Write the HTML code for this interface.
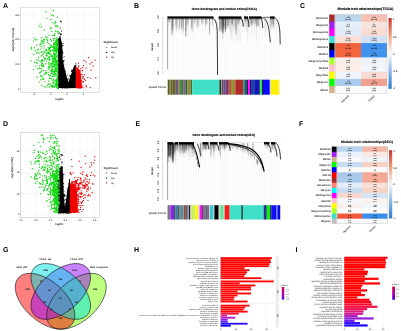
<!DOCTYPE html>
<html><head><meta charset="utf-8"><style>
html,body{margin:0;padding:0;background:#fff;width:401px;height:331px;overflow:hidden}
svg{display:block;will-change:transform;font-family:"Liberation Sans", sans-serif}
text{text-rendering:geometricPrecision}
</style></head><body>
<svg width="401" height="331" viewBox="0 0 401 331" xmlns="http://www.w3.org/2000/svg" shape-rendering="auto">
<rect width="401" height="331" fill="#fff"/>
<text x="3" y="7.8" font-size="7" text-anchor="start" font-weight="bold" fill="#000">A</text>
<text x="134" y="7.8" font-size="7" text-anchor="start" font-weight="bold" fill="#000">B</text>
<text x="300.1" y="7.8" font-size="7" text-anchor="start" font-weight="bold" fill="#000">C</text>
<text x="3" y="126.3" font-size="7" text-anchor="start" font-weight="bold" fill="#000">D</text>
<text x="135.6" y="126.3" font-size="7" text-anchor="start" font-weight="bold" fill="#000">E</text>
<text x="298.9" y="126.3" font-size="7" text-anchor="start" font-weight="bold" fill="#000">F</text>
<text x="3" y="251.9" font-size="7" text-anchor="start" font-weight="bold" fill="#000">G</text>
<text x="134" y="251.8" font-size="7" text-anchor="start" font-weight="bold" fill="#000">H</text>
<text x="295.6" y="252" font-size="7" text-anchor="start" font-weight="bold" fill="#000">I</text>
<rect x="20.6" y="7.2" width="78.9" height="85.2" fill="#fff"/>
<line x1="42.25" y1="7.2" x2="42.25" y2="92.4" stroke="#f5f5f5" stroke-width="0.3"/>
<line x1="58.75" y1="7.2" x2="58.75" y2="92.4" stroke="#f5f5f5" stroke-width="0.3"/>
<line x1="75.25" y1="7.2" x2="75.25" y2="92.4" stroke="#f5f5f5" stroke-width="0.3"/>
<line x1="20.6" y1="27.25" x2="99.5" y2="27.25" stroke="#f5f5f5" stroke-width="0.3"/>
<line x1="20.6" y1="51.75" x2="99.5" y2="51.75" stroke="#f5f5f5" stroke-width="0.3"/>
<line x1="20.6" y1="76.5" x2="99.5" y2="76.5" stroke="#f5f5f5" stroke-width="0.3"/>
<line x1="34" y1="7.2" x2="34" y2="92.4" stroke="#ececec" stroke-width="0.4"/>
<line x1="50.5" y1="7.2" x2="50.5" y2="92.4" stroke="#ececec" stroke-width="0.4"/>
<line x1="67" y1="7.2" x2="67" y2="92.4" stroke="#ececec" stroke-width="0.4"/>
<line x1="83.5" y1="7.2" x2="83.5" y2="92.4" stroke="#ececec" stroke-width="0.4"/>
<line x1="20.6" y1="15" x2="99.5" y2="15" stroke="#ececec" stroke-width="0.4"/>
<line x1="20.6" y1="39.5" x2="99.5" y2="39.5" stroke="#ececec" stroke-width="0.4"/>
<line x1="20.6" y1="64" x2="99.5" y2="64" stroke="#ececec" stroke-width="0.4"/>
<line x1="20.6" y1="89" x2="99.5" y2="89" stroke="#ececec" stroke-width="0.4"/>
<path d="M51.1 64.7h0M54.0 58.1h0M52.3 22.6h0M56.7 51.4h0M57.6 77.6h0M57.9 76.8h0M52.0 67.9h0M54.9 75.8h0M46.1 72.6h0M49.6 47.4h0M57.4 41.0h0M56.5 66.8h0M57.7 61.5h0M57.4 60.9h0M55.5 49.3h0M54.0 83.8h0M45.1 50.1h0M43.2 64.8h0M49.0 53.1h0M34.0 37.9h0M54.6 59.1h0M57.5 48.7h0M44.8 60.3h0M33.8 54.5h0M57.6 83.3h0M54.4 65.1h0M54.8 48.1h0M49.6 75.7h0M58.4 56.1h0M56.8 79.2h0M42.4 66.3h0M55.1 48.9h0M54.7 47.1h0M39.2 53.2h0M54.3 47.2h0M49.2 49.5h0M51.7 70.0h0M54.3 87.3h0M53.7 45.2h0M50.5 84.0h0M42.5 60.0h0M54.3 46.1h0M56.4 86.4h0M50.6 45.9h0M58.1 55.2h0M50.1 44.6h0M46.1 11.7h0M53.8 71.2h0M54.5 71.3h0M50.9 51.0h0M55.2 21.3h0M55.4 83.9h0M52.2 59.4h0M47.9 52.1h0M50.0 86.6h0M56.3 50.7h0M56.3 51.3h0M51.4 40.7h0M56.7 61.4h0M55.0 72.0h0M54.5 57.6h0M54.2 53.5h0M57.8 50.0h0M57.5 61.3h0M55.2 57.9h0M55.4 61.3h0M53.3 67.1h0M46.0 74.0h0M53.5 48.1h0M56.5 71.4h0M54.3 50.9h0M35.2 50.7h0M56.5 81.2h0M44.2 41.1h0M57.2 87.7h0M45.9 87.2h0M48.3 53.3h0M51.7 55.6h0M41.5 65.0h0M53.8 66.1h0M56.9 83.2h0M56.8 50.2h0M53.8 44.5h0M52.2 50.1h0M58.1 79.5h0M58.2 59.8h0M58.3 55.0h0M51.6 14.9h0M57.0 44.4h0M56.7 49.5h0M55.3 67.5h0M47.2 37.3h0M52.5 70.8h0M52.9 82.6h0M56.5 48.7h0M57.5 85.3h0M56.7 47.6h0M41.2 56.1h0M53.6 53.1h0M55.8 62.9h0M54.6 56.1h0M56.9 87.7h0M42.5 41.8h0M55.6 22.7h0M58.2 33.3h0M55.8 51.4h0M52.5 74.0h0M58.3 64.4h0M35.0 39.8h0M44.9 39.1h0M57.4 65.7h0M50.2 70.3h0M48.2 47.8h0M53.4 53.5h0M38.4 60.1h0M58.3 83.6h0M56.4 61.4h0M44.1 46.1h0M40.8 79.7h0M56.4 48.2h0M50.8 65.7h0M39.3 82.1h0M56.3 42.3h0M52.9 71.6h0M57.2 62.7h0M56.3 74.7h0M52.9 58.5h0M56.9 38.4h0M53.5 50.2h0M55.9 80.0h0M56.9 38.3h0M48.8 68.7h0M57.1 65.6h0M55.5 51.4h0M56.3 68.1h0M50.9 75.6h0M52.7 35.5h0M40.9 43.2h0M56.6 82.0h0M58.1 81.4h0M57.7 44.2h0M43.7 39.7h0M54.3 47.9h0M57.4 65.6h0M33.3 41.1h0M51.7 45.9h0M53.1 76.4h0M52.6 66.1h0M47.4 85.8h0M57.3 63.8h0M40.0 24.1h0M46.1 50.3h0M37.2 63.2h0M58.1 58.6h0M43.6 79.4h0M57.2 78.2h0M46.1 50.2h0M41.5 63.0h0M46.8 72.6h0M57.0 80.5h0M54.0 56.1h0M56.1 85.9h0M55.9 53.9h0M46.5 54.2h0M57.7 81.2h0M58.1 67.0h0M50.7 78.1h0M54.2 62.1h0M48.4 43.6h0M58.1 43.9h0M58.4 53.9h0M55.7 26.2h0M41.2 46.7h0M51.2 63.1h0M57.2 41.6h0M55.6 41.4h0M49.0 84.3h0M56.4 53.0h0M55.9 60.0h0M55.7 44.0h0M44.1 86.5h0M48.1 59.3h0M57.7 44.0h0M58.2 65.3h0M54.2 57.1h0M55.4 53.9h0M56.8 82.7h0M55.0 72.0h0M55.1 55.9h0M58.3 43.4h0M58.0 52.4h0M57.4 70.4h0M50.0 56.1h0M57.2 40.1h0M58.2 58.8h0M37.6 52.6h0M55.2 65.3h0M53.0 60.7h0M48.4 50.0h0M51.8 47.1h0M53.6 59.9h0M53.9 66.1h0M36.5 62.6h0M49.7 67.4h0M54.5 43.5h0M50.4 39.3h0M55.0 44.4h0M44.1 30.0h0M36.8 39.7h0M47.1 58.9h0M43.8 39.5h0M51.2 73.5h0M39.3 26.6h0M57.0 63.4h0M51.7 67.3h0M55.5 46.9h0M44.3 59.0h0M53.7 40.4h0M40.8 75.5h0M55.9 25.6h0M56.0 40.7h0M52.4 47.3h0M54.2 86.6h0M48.2 67.0h0M56.2 80.3h0M42.9 42.6h0M43.7 65.6h0M56.4 42.0h0M46.0 63.8h0M56.6 85.5h0M55.6 73.6h0M56.0 60.6h0M56.2 70.9h0M57.2 75.5h0M51.3 56.8h0M52.2 80.1h0M48.0 84.1h0M51.7 27.9h0M53.7 74.7h0M55.6 83.6h0M58.1 47.7h0M55.7 61.7h0M57.8 42.4h0M42.0 51.7h0M41.8 60.0h0M49.7 48.3h0M48.9 62.4h0M49.5 57.0h0M37.5 68.8h0M56.0 40.1h0M48.8 57.4h0M55.7 44.3h0M51.8 31.5h0M55.7 31.2h0M46.5 55.7h0M54.0 42.9h0M51.5 86.6h0M57.4 17.1h0M57.9 66.0h0M45.6 36.8h0M57.6 51.1h0M53.1 64.0h0M54.9 68.5h0M41.7 85.2h0M54.8 65.9h0M58.2 60.8h0M52.5 85.1h0M49.1 87.1h0M43.9 74.6h0M55.8 51.7h0M43.9 43.6h0M54.2 23.7h0M46.7 39.0h0M56.2 44.2h0M55.9 62.4h0M57.0 38.0h0M54.2 49.2h0M49.0 64.8h0M55.6 51.7h0M51.0 19.5h0M57.8 42.5h0M58.3 48.8h0M49.1 48.6h0M43.9 51.5h0M56.5 41.0h0M58.0 88.2h0M56.3 45.0h0M40.5 72.3h0M41.9 55.6h0M48.2 72.1h0M56.8 56.6h0M57.2 79.6h0M35.6 66.1h0M41.3 52.2h0M52.4 64.1h0M53.4 10.8h0M54.7 54.0h0M50.3 50.5h0M39.8 65.8h0M47.1 55.8h0M56.2 48.2h0M52.6 57.1h0M53.6 60.5h0M56.1 48.5h0M40.1 61.5h0M36.6 53.2h0M55.1 61.2h0M54.0 63.7h0M42.3 78.9h0M54.9 86.0h0M54.7 35.6h0M53.9 58.2h0M56.3 40.6h0M37.9 49.6h0M54.3 55.4h0M46.4 50.9h0M53.1 50.5h0M41.4 60.7h0M56.8 25.7h0M54.7 54.2h0M39.9 68.7h0M53.5 79.1h0M47.1 18.6h0M49.2 54.1h0M31.5 47.2h0M58.1 58.3h0M58.1 33.8h0M31.8 49.3h0M51.3 78.8h0M55.4 69.0h0M41.3 26.7h0M50.8 63.2h0M55.4 70.0h0M46.1 52.9h0M57.4 68.5h0M54.5 61.9h0M58.3 55.5h0M56.7 43.4h0M57.0 70.9h0M57.9 41.3h0M56.6 84.3h0M45.9 70.8h0M57.0 62.7h0M56.8 51.2h0M47.6 53.0h0M57.7 39.8h0M56.0 41.8h0M57.5 73.1h0M55.8 69.0h0M57.0 86.6h0M37.0 77.2h0M57.2 69.1h0M41.5 71.3h0M57.6 49.4h0M43.8 45.9h0M49.6 58.8h0M31.1 60.9h0M47.5 59.1h0M56.5 86.9h0M57.6 42.9h0M54.9 64.6h0M57.4 69.1h0M41.8 40.4h0M41.7 37.8h0M38.3 57.3h0M54.1 66.5h0M58.3 31.9h0M54.7 51.1h0M57.9 40.6h0M54.7 56.7h0M43.5 66.7h0M55.8 64.1h0M43.5 70.5h0M53.9 72.0h0M57.8 78.3h0M45.0 81.6h0M54.0 35.3h0M54.8 76.5h0M57.4 31.1h0M56.4 82.9h0M49.5 52.7h0M55.8 57.6h0M56.2 64.5h0M41.2 43.7h0M54.3 71.2h0M42.3 63.5h0M49.5 49.5h0M54.3 35.0h0M55.1 46.5h0M55.3 42.4h0M40.3 44.8h0M54.2 73.2h0M50.5 47.6h0M36.8 60.0h0M45.9 63.7h0M58.1 70.5h0M56.8 80.9h0M38.4 49.2h0M54.5 75.1h0M39.5 72.9h0M51.8 72.3h0M52.5 61.2h0M49.5 78.3h0M55.7 22.5h0M57.0 87.3h0M47.7 40.5h0M58.1 68.6h0M43.1 53.7h0M55.6 62.4h0M53.6 38.7h0M52.5 82.1h0M53.9 42.9h0M44.4 52.4h0M54.3 57.6h0M50.4 28.3h0M42.5 61.3h0M54.7 72.9h0M54.0 38.9h0M56.7 86.1h0M43.8 41.3h0M57.5 73.8h0M54.5 65.2h0M53.9 62.1h0M56.6 40.0h0M56.0 71.0h0M51.6 85.7h0M56.3 45.4h0M57.2 50.3h0M55.1 58.9h0M54.3 46.3h0M45.0 73.2h0M57.6 81.6h0M57.8 26.8h0M55.2 80.7h0M50.3 51.4h0M57.5 45.7h0M43.7 57.3h0M49.0 63.3h0M37.5 49.9h0M43.0 78.3h0M55.4 74.1h0M51.4 55.4h0M47.3 42.5h0M53.1 66.2h0M57.9 87.7h0M54.9 50.2h0M57.2 62.8h0M53.7 43.7h0M52.8 56.2h0M52.0 63.7h0M49.0 35.5h0M56.6 84.7h0M45.4 58.3h0M49.4 59.7h0M52.8 69.2h0M58.0 77.3h0M34.6 62.4h0M55.7 51.6h0M51.7 69.8h0M56.8 60.2h0M57.7 64.7h0M54.5 56.8h0M48.6 74.8h0M31.3 48.9h0M53.5 62.1h0M54.7 75.3h0M53.6 15.7h0M53.7 82.8h0M36.5 45.3h0M47.5 40.3h0M58.2 83.6h0M54.8 38.4h0M55.5 54.7h0M48.3 53.0h0M33.6 69.6h0M55.3 46.7h0M57.8 69.3h0M52.1 15.1h0M57.4 83.0h0M42.2 76.3h0M56.2 43.6h0M58.3 56.0h0M41.8 65.6h0M57.4 76.4h0M56.4 45.8h0M56.3 47.8h0M55.8 59.4h0M54.5 57.2h0M52.0 63.2h0M52.8 87.5h0M55.5 85.5h0M58.2 60.1h0M57.8 61.3h0M39.9 44.9h0M34.5 47.8h0M54.3 81.7h0M43.8 48.1h0M56.1 79.8h0M58.3 51.4h0M57.6 41.2h0M52.9 86.4h0M41.2 68.7h0M55.4 71.0h0M40.6 49.1h0M58.2 54.6h0M49.5 66.5h0M52.4 66.0h0M46.5 61.3h0M58.2 68.0h0M57.2 44.1h0M55.6 58.5h0M51.2 71.5h0M42.7 54.6h0M53.2 51.0h0M48.5 69.0h0M48.9 81.0h0M55.5 71.0h0M56.4 70.1h0M39.5 68.3h0M57.6 46.5h0M52.1 76.6h0M54.5 48.0h0M57.4 40.3h0M53.9 47.2h0M46.5 49.4h0M57.8 45.6h0M54.8 65.2h0M52.8 86.0h0M52.6 62.5h0M48.8 57.1h0M54.8 33.5h0M55.5 71.2h0M51.7 70.5h0M50.1 60.0h0M52.9 47.0h0M41.0 76.6h0M48.7 52.5h0M54.5 72.3h0M57.0 55.2h0M53.7 54.3h0M56.8 47.3h0M41.3 41.1h0M54.9 59.7h0M55.2 50.4h0M57.4 56.2h0M58.0 80.7h0M56.7 39.8h0M53.5 80.1h0M58.4 85.3h0M56.3 57.1h0M57.2 72.3h0M50.5 54.2h0M56.6 42.5h0M56.4 79.9h0" stroke="#10d810" stroke-opacity="1.0" stroke-width="1.36" stroke-linecap="round" fill="none"/>
<path d="M73.1 78.6h0M75.1 87.2h0M73.1 71.4h0M70.0 85.2h0M59.7 82.0h0M62.8 62.5h0M64.4 88.0h0M62.3 70.2h0M60.0 87.3h0M64.4 79.8h0M73.0 70.0h0M60.7 65.1h0M72.5 86.5h0M67.9 86.1h0M66.3 83.9h0M58.5 71.8h0M75.3 78.6h0M58.6 61.4h0M62.5 74.3h0M61.7 61.8h0M64.0 84.0h0M62.5 68.5h0M74.2 78.5h0M60.0 55.1h0M59.8 58.7h0M61.5 81.1h0M60.7 79.6h0M72.4 85.5h0M70.0 87.9h0M59.9 48.5h0M60.0 52.4h0M65.4 81.3h0M61.7 46.5h0M73.1 71.0h0M62.4 85.2h0M62.4 52.0h0M60.4 68.0h0M66.9 81.2h0M71.6 81.1h0M73.2 76.9h0M63.1 60.7h0M74.4 75.0h0M59.9 57.2h0M62.3 63.6h0M59.5 43.4h0M58.4 39.4h0M66.7 83.1h0M60.0 41.1h0M76.1 74.4h0M65.3 71.0h0M66.5 84.4h0M75.0 71.3h0M61.8 69.4h0M75.2 81.2h0M63.7 65.5h0M60.0 44.1h0M69.4 86.3h0M58.9 54.0h0M70.8 75.2h0M65.0 83.8h0M62.9 85.1h0M73.8 72.8h0M63.2 66.3h0M62.1 65.8h0M63.8 60.5h0M59.4 62.9h0M63.8 85.8h0M61.0 70.0h0M59.9 46.1h0M61.3 56.0h0M61.0 48.2h0M74.9 81.7h0M65.9 85.9h0M74.6 84.8h0M73.0 74.1h0M60.3 41.4h0M58.6 76.9h0M71.6 75.3h0M61.4 84.1h0M61.2 71.6h0M71.0 82.0h0M71.0 81.9h0M59.3 76.2h0M64.3 84.0h0M59.2 46.4h0M60.9 51.5h0M60.5 77.4h0M62.0 82.4h0M65.7 77.1h0M61.2 59.3h0M74.0 76.4h0M62.7 75.7h0M70.8 77.9h0M60.7 58.4h0M62.2 57.5h0M66.0 88.1h0M75.9 70.2h0M58.4 84.7h0M62.9 82.8h0M63.4 71.1h0M61.2 86.8h0M69.4 86.2h0M60.9 33.6h0M59.7 36.9h0M59.2 65.7h0M62.5 50.8h0M75.5 66.1h0M59.2 63.1h0M74.1 75.1h0M60.5 56.5h0M60.3 80.6h0M72.2 78.6h0M59.1 67.4h0M62.4 88.3h0M71.9 87.7h0M70.8 80.3h0M66.9 78.9h0M61.2 45.0h0M73.7 84.9h0M74.8 70.1h0M58.5 73.0h0M74.3 86.8h0M62.0 64.7h0M72.1 79.0h0M72.1 77.0h0M62.9 52.8h0M64.4 86.0h0M63.3 43.3h0M72.7 84.6h0M61.6 42.8h0M65.1 81.9h0M71.6 84.8h0M72.3 80.1h0M59.0 48.2h0M60.5 45.9h0M63.8 64.1h0M62.0 78.5h0M66.4 87.7h0M59.0 68.9h0M60.8 34.6h0M73.6 76.7h0M67.8 75.0h0M61.7 60.0h0M65.0 82.5h0M63.5 68.3h0M58.4 57.3h0M73.0 86.4h0M72.1 81.1h0M61.8 75.7h0M60.3 85.3h0M63.1 66.2h0M62.2 86.9h0M64.3 72.0h0M60.7 70.4h0M69.4 83.2h0M73.3 74.1h0M73.2 87.6h0M72.7 71.3h0M73.9 73.5h0M68.3 85.7h0M59.1 84.8h0M62.0 59.9h0M74.6 73.9h0M67.9 79.9h0M71.2 84.0h0M63.5 74.0h0M59.3 41.8h0M75.7 63.8h0M61.6 55.0h0M70.7 85.4h0M68.5 86.8h0M62.7 76.1h0M63.1 84.5h0M63.7 65.5h0M71.5 85.8h0M60.6 71.1h0M60.0 39.4h0M72.7 87.2h0M71.4 71.4h0M72.7 75.0h0M62.6 53.7h0M59.0 40.9h0M75.0 68.1h0M65.6 80.2h0M67.8 82.7h0M63.3 83.5h0M62.6 67.5h0M59.9 54.4h0M61.3 34.7h0M73.6 82.6h0M61.1 82.7h0M74.2 69.3h0M69.8 75.9h0M60.1 62.1h0M62.5 71.9h0M60.5 63.8h0M60.6 51.7h0M65.4 84.2h0M72.0 82.7h0M62.9 83.5h0M60.5 69.8h0M62.6 82.0h0M58.4 88.0h0M72.4 76.4h0M62.0 69.0h0M63.8 72.7h0M66.2 81.7h0M59.1 74.1h0M63.5 61.2h0M64.5 75.9h0M62.7 62.1h0M72.4 84.0h0M69.4 82.4h0M72.8 71.5h0M62.1 80.5h0M73.7 85.2h0M70.1 81.5h0M60.6 70.5h0M60.7 69.5h0M67.5 79.7h0M61.7 46.6h0M73.3 69.7h0M65.4 75.4h0M60.4 52.9h0M64.5 80.8h0M60.0 40.3h0M66.3 84.5h0M61.6 77.6h0M58.8 75.0h0M63.0 70.9h0M60.5 45.7h0M60.3 51.7h0M59.3 57.3h0M74.9 87.2h0M60.8 43.7h0M59.0 51.9h0M64.3 79.3h0M65.1 78.0h0M61.5 72.0h0M67.2 84.5h0M64.9 85.4h0M73.8 85.3h0M63.2 72.5h0M61.9 55.6h0M63.4 75.1h0M72.2 83.4h0M74.0 70.3h0M74.1 79.3h0M75.4 86.2h0M62.2 67.0h0M65.4 82.6h0M71.9 78.7h0M63.9 80.2h0M75.0 76.7h0M73.8 73.8h0M59.5 58.6h0M58.5 50.0h0M62.3 86.1h0M73.7 78.1h0M73.1 75.9h0M75.2 68.0h0M59.1 59.8h0M74.3 87.4h0M60.9 50.8h0M74.2 72.3h0M61.5 58.4h0M61.2 59.1h0M75.8 72.3h0M59.1 50.5h0M72.8 76.6h0M70.5 76.8h0M66.3 85.8h0M74.8 72.5h0M61.1 72.0h0M64.6 85.5h0M60.5 69.0h0M63.1 62.3h0M66.5 78.5h0M61.3 52.6h0M59.4 60.4h0M75.0 76.7h0M62.2 69.8h0M62.0 52.6h0M58.6 53.3h0M61.2 86.6h0M60.9 53.6h0M61.8 71.5h0M58.6 85.5h0M74.1 87.6h0M72.7 71.4h0M61.4 57.1h0M70.8 75.7h0M61.6 60.6h0M59.5 76.1h0M63.6 86.0h0M61.4 64.7h0M58.9 49.8h0M75.3 75.2h0M58.7 49.7h0M60.1 59.1h0M74.2 78.4h0M72.0 70.5h0M60.8 50.2h0M58.8 58.8h0M59.5 49.1h0M71.1 80.8h0M74.3 69.3h0M75.4 82.3h0M66.7 80.4h0M67.8 88.1h0M63.8 81.7h0M59.7 73.9h0M64.1 60.8h0M63.1 68.3h0M61.6 48.3h0M71.1 86.4h0M73.4 76.9h0M61.9 60.4h0M74.2 80.6h0M73.0 73.4h0M61.3 57.9h0M70.6 85.1h0M71.8 79.3h0M68.9 78.8h0M59.6 61.6h0M72.4 70.5h0M62.3 75.8h0M67.3 85.6h0M65.6 75.5h0M76.1 65.2h0M70.3 84.2h0M59.4 48.6h0M74.3 68.7h0M64.2 70.5h0M73.6 79.8h0M75.4 67.3h0M59.6 58.4h0M65.7 77.6h0M62.5 61.7h0M64.9 86.9h0M62.0 45.1h0M65.8 81.3h0M61.4 64.1h0M59.1 60.5h0M71.6 77.0h0M63.2 83.2h0M58.6 79.6h0M61.5 81.2h0M64.6 73.8h0M65.4 86.8h0M63.1 45.5h0M66.6 84.5h0M63.2 77.9h0M62.8 80.3h0M63.0 74.2h0M60.1 43.1h0M59.0 39.3h0M64.4 68.3h0M65.7 75.3h0M62.0 82.3h0M60.2 36.3h0M61.5 43.8h0M60.0 48.0h0M59.7 76.0h0M65.0 72.3h0M62.1 84.4h0M58.6 52.5h0M59.5 78.3h0M62.7 69.0h0M75.3 82.4h0M73.6 86.1h0M74.5 83.1h0M72.1 76.1h0M63.5 69.9h0M74.6 81.2h0M59.3 85.1h0M65.5 75.4h0M58.9 78.4h0M73.1 74.8h0M63.8 76.9h0M74.1 71.2h0M59.2 63.1h0M60.2 54.3h0M71.8 75.6h0M65.1 81.8h0M59.9 60.2h0M72.6 73.1h0M64.1 56.7h0M61.8 77.5h0M63.6 73.0h0M74.2 76.8h0M63.3 70.9h0M72.4 86.5h0M66.8 85.8h0M59.8 42.8h0M71.8 70.1h0M60.1 56.8h0M59.8 49.3h0M69.9 81.4h0M60.0 71.1h0M63.4 80.4h0M61.7 71.8h0M61.1 43.2h0M63.1 77.5h0M59.4 43.9h0M74.2 74.3h0M65.7 76.9h0M60.5 54.8h0M59.1 44.3h0M65.2 70.9h0M67.1 83.0h0M59.8 48.6h0M74.2 86.9h0M61.9 43.2h0M73.4 73.7h0M60.7 77.7h0M58.8 65.3h0M73.3 72.5h0M64.9 84.2h0M59.2 68.1h0" stroke="#000" stroke-opacity="1.0" stroke-width="1.1" stroke-linecap="round" fill="none"/>
<path d="M58.4,38 L60.5,37 L62.3,45 L62.6,60 L64.8,70 L66.5,76 L68,81.7 L68.6,81.7 L74.1,65.7 L75.2,65 L75.9,66 L75.9,88 L58.4,88 Z" fill="#000"/>
<path d="M60.6 21.2h0M61.2 21.8h0M60.2 28.0h0M61.5 31.0h0M59.5 33.0h0M60.5 34.5h0" stroke="#000" stroke-opacity="1.0" stroke-width="1.2" stroke-linecap="round" fill="none"/>
<path d="M75.9,69 L77.5,67.5 L79.5,70 L81,76 L82,88 L75.9,88 Z" fill="#f00000"/>
<path d="M77.0 74.1h0M83.5 65.7h0M77.5 87.6h0M80.4 79.6h0M77.4 73.1h0M79.0 70.8h0M76.7 87.1h0M76.7 79.8h0M78.1 85.4h0M79.8 74.3h0M84.5 74.7h0M77.9 80.0h0M78.1 79.9h0M76.7 79.7h0M80.5 74.2h0M78.2 73.0h0M78.5 74.4h0M76.4 86.1h0M77.5 85.0h0M83.4 76.9h0M77.2 74.9h0M76.9 74.4h0M75.9 73.5h0M79.6 71.5h0M80.0 82.0h0M79.0 82.5h0M79.4 73.1h0M77.8 86.4h0M78.4 76.6h0M76.2 87.2h0M77.3 83.1h0M78.2 82.2h0M80.2 71.8h0M79.4 72.9h0M78.8 74.9h0M79.5 82.1h0M78.7 72.9h0M78.6 79.7h0M79.2 88.1h0M78.7 66.7h0M82.5 78.4h0M79.6 80.1h0M80.7 88.1h0M78.9 81.4h0M77.3 85.2h0M77.2 79.3h0M81.9 74.8h0M77.6 70.2h0M79.5 81.3h0M79.1 80.5h0M82.3 70.8h0M82.5 70.5h0M80.5 86.1h0M79.6 74.8h0M78.2 72.6h0M78.8 78.9h0M79.2 82.3h0M77.3 73.1h0M86.0 85.5h0M78.9 83.2h0M77.0 76.6h0M77.4 74.2h0M75.9 67.7h0M78.2 80.0h0M77.4 82.7h0M76.6 81.9h0M78.7 80.1h0M80.1 76.7h0M79.6 79.9h0M76.0 87.9h0M78.6 88.0h0M86.3 67.8h0M79.0 77.7h0M86.3 86.9h0M80.0 82.0h0M77.9 79.1h0M84.5 79.2h0M76.7 79.4h0M85.5 80.3h0M95.8 77.7h0M81.8 74.1h0M90.3 87.6h0M87.9 77.7h0M77.4 80.8h0M77.5 87.3h0M76.4 86.7h0M79.6 85.3h0M77.4 85.4h0M78.3 87.1h0M78.4 83.6h0M80.1 72.3h0M78.8 79.1h0M77.1 78.3h0M80.5 74.5h0M79.6 75.5h0M78.3 73.2h0M78.5 66.0h0M80.5 87.9h0M79.5 84.0h0M76.2 70.7h0M78.2 87.8h0M76.7 70.7h0M77.4 73.8h0M78.3 75.7h0M82.9 87.5h0M79.5 74.6h0M79.0 77.4h0M78.5 63.2h0M80.2 75.1h0M78.8 70.2h0M77.0 73.2h0M76.1 71.1h0M78.8 83.2h0M76.7 73.5h0M77.5 73.7h0M90.8 78.3h0M79.9 82.7h0M76.7 76.8h0M79.1 86.8h0M78.6 70.1h0M76.8 75.2h0M78.0 84.5h0M76.6 81.2h0M81.8 81.1h0M83.0 82.0h0M78.7 76.6h0M75.9 69.6h0M83.6 81.7h0M81.6 86.4h0M78.9 72.4h0M81.0 87.0h0M78.0 72.4h0M77.7 74.8h0M77.4 81.9h0M77.8 73.2h0M76.1 80.3h0M76.7 76.6h0M77.7 75.6h0M76.1 84.6h0M77.7 85.9h0M78.8 66.9h0M78.2 75.7h0M78.7 72.4h0M82.7 67.6h0M80.8 68.6h0M82.8 76.4h0M79.8 87.5h0M80.1 70.3h0M79.1 78.4h0M76.3 82.7h0M77.7 81.3h0M84.0 79.1h0M78.5 87.6h0M81.3 83.7h0M79.5 86.8h0M76.9 67.7h0M76.9 71.3h0M76.8 75.3h0M77.5 71.4h0M79.3 85.4h0M78.2 73.9h0M77.7 76.6h0M80.3 77.7h0M79.3 71.1h0M78.0 86.1h0M81.6 80.6h0M77.5 84.8h0M82.0 85.7h0M78.6 72.9h0M76.3 71.0h0M79.5 87.6h0" stroke="#f00000" stroke-opacity="1.0" stroke-width="1.3" stroke-linecap="round" fill="none"/>
<path d="M95.0 60.2h0M92.0 62.5h0M88.5 57.5h0M90.0 64.0h0M86.0 62.0h0M84.0 60.5h0M93.0 66.0h0M91.0 70.0h0" stroke="#f00000" stroke-opacity="1.0" stroke-width="1.3" stroke-linecap="round" fill="none"/>
<rect x="20.6" y="7.2" width="78.9" height="85.2" fill="none" stroke="#bdbdbd" stroke-width="0.45"/>
<line x1="34" y1="92.4" x2="34" y2="93.4" stroke="#555" stroke-width="0.3"/>
<text x="34" y="95.30000000000001" font-size="2.3" text-anchor="middle" font-weight="bold" fill="#444">-4</text>
<line x1="50.5" y1="92.4" x2="50.5" y2="93.4" stroke="#555" stroke-width="0.3"/>
<text x="50.5" y="95.30000000000001" font-size="2.3" text-anchor="middle" font-weight="bold" fill="#444">-2</text>
<line x1="67" y1="92.4" x2="67" y2="93.4" stroke="#555" stroke-width="0.3"/>
<text x="67" y="95.30000000000001" font-size="2.3" text-anchor="middle" font-weight="bold" fill="#444">0</text>
<line x1="83.5" y1="92.4" x2="83.5" y2="93.4" stroke="#555" stroke-width="0.3"/>
<text x="83.5" y="95.30000000000001" font-size="2.3" text-anchor="middle" font-weight="bold" fill="#444">2</text>
<line x1="19.6" y1="15" x2="20.6" y2="15" stroke="#555" stroke-width="0.3"/>
<text x="19.200000000000003" y="15.85" font-size="2.3" text-anchor="end" font-weight="bold" fill="#444">300</text>
<line x1="19.6" y1="39.5" x2="20.6" y2="39.5" stroke="#555" stroke-width="0.3"/>
<text x="19.200000000000003" y="40.35" font-size="2.3" text-anchor="end" font-weight="bold" fill="#444">200</text>
<line x1="19.6" y1="64" x2="20.6" y2="64" stroke="#555" stroke-width="0.3"/>
<text x="19.200000000000003" y="64.85" font-size="2.3" text-anchor="end" font-weight="bold" fill="#444">100</text>
<line x1="19.6" y1="89" x2="20.6" y2="89" stroke="#555" stroke-width="0.3"/>
<text x="19.200000000000003" y="89.85" font-size="2.3" text-anchor="end" font-weight="bold" fill="#444">0</text>
<text x="59.6" y="99.6" font-size="2.85" text-anchor="middle" font-weight="bold" fill="#222">logFC</text>
<text x="13.6" y="40" font-size="2.7" font-weight="bold" text-anchor="middle" fill="#222" transform="rotate(-90 13.6 40)" textLength="24.5" lengthAdjust="spacingAndGlyphs">-log10(adj.P.Value)</text>
<text x="103.5" y="43" font-size="2.8" text-anchor="start" font-weight="bold" fill="#222">Significant</text>
<circle cx="106.5" cy="47.55" r="0.75" fill="#30b030" fill-opacity="0.9"/>
<text x="110.9" y="48.3" font-size="2.3" text-anchor="start" font-weight="bold" fill="#333">Down</text>
<circle cx="106.5" cy="52.449999999999996" r="0.75" fill="#000" fill-opacity="0.9"/>
<text x="110.9" y="53.199999999999996" font-size="2.3" text-anchor="start" font-weight="bold" fill="#333">Not</text>
<circle cx="106.5" cy="57.349999999999994" r="0.75" fill="#c02020" fill-opacity="0.9"/>
<text x="110.9" y="58.099999999999994" font-size="2.3" text-anchor="start" font-weight="bold" fill="#333">Up</text>
<rect x="20.6" y="132.6" width="78.9" height="85.0" fill="#fff"/>
<line x1="28.15" y1="132.6" x2="28.15" y2="217.6" stroke="#f5f5f5" stroke-width="0.3"/>
<line x1="42.95" y1="132.6" x2="42.95" y2="217.6" stroke="#f5f5f5" stroke-width="0.3"/>
<line x1="57.65" y1="132.6" x2="57.65" y2="217.6" stroke="#f5f5f5" stroke-width="0.3"/>
<line x1="72.45" y1="132.6" x2="72.45" y2="217.6" stroke="#f5f5f5" stroke-width="0.3"/>
<line x1="87.25" y1="132.6" x2="87.25" y2="217.6" stroke="#f5f5f5" stroke-width="0.3"/>
<line x1="20.6" y1="161.75" x2="99.5" y2="161.75" stroke="#f5f5f5" stroke-width="0.3"/>
<line x1="20.6" y1="183.15" x2="99.5" y2="183.15" stroke="#f5f5f5" stroke-width="0.3"/>
<line x1="20.6" y1="204.2" x2="99.5" y2="204.2" stroke="#f5f5f5" stroke-width="0.3"/>
<line x1="20.7" y1="132.6" x2="20.7" y2="217.6" stroke="#ececec" stroke-width="0.4"/>
<line x1="35.6" y1="132.6" x2="35.6" y2="217.6" stroke="#ececec" stroke-width="0.4"/>
<line x1="50.3" y1="132.6" x2="50.3" y2="217.6" stroke="#ececec" stroke-width="0.4"/>
<line x1="65" y1="132.6" x2="65" y2="217.6" stroke="#ececec" stroke-width="0.4"/>
<line x1="79.9" y1="132.6" x2="79.9" y2="217.6" stroke="#ececec" stroke-width="0.4"/>
<line x1="94.6" y1="132.6" x2="94.6" y2="217.6" stroke="#ececec" stroke-width="0.4"/>
<line x1="20.6" y1="151" x2="99.5" y2="151" stroke="#ececec" stroke-width="0.4"/>
<line x1="20.6" y1="172.5" x2="99.5" y2="172.5" stroke="#ececec" stroke-width="0.4"/>
<line x1="20.6" y1="193.8" x2="99.5" y2="193.8" stroke="#ececec" stroke-width="0.4"/>
<line x1="20.6" y1="214.6" x2="99.5" y2="214.6" stroke="#ececec" stroke-width="0.4"/>
<path d="M52.2 194.3h0M41.0 183.1h0M57.0 172.3h0M59.0 186.7h0M59.0 196.5h0M44.6 175.8h0M52.2 171.2h0M55.1 171.6h0M53.4 162.1h0M56.2 165.5h0M53.8 170.5h0M51.1 183.4h0M59.4 192.5h0M58.0 192.5h0M37.7 178.4h0M57.7 200.1h0M54.5 187.7h0M59.2 186.5h0M51.7 203.5h0M54.3 147.5h0M55.7 196.3h0M52.2 175.6h0M50.8 162.7h0M42.5 184.5h0M55.6 196.8h0M50.4 187.6h0M51.7 184.2h0M54.0 182.9h0M58.8 181.2h0M57.4 211.3h0M58.0 196.2h0M39.2 154.7h0M55.2 149.7h0M31.2 177.0h0M57.3 211.3h0M47.0 200.6h0M47.3 181.6h0M56.3 192.8h0M53.1 175.3h0M59.6 150.1h0M59.0 168.4h0M54.9 195.6h0M54.5 187.0h0M50.9 195.4h0M50.5 137.6h0M57.1 190.1h0M47.8 137.7h0M58.0 194.1h0M56.9 194.6h0M51.8 190.3h0M55.4 175.2h0M50.9 191.0h0M58.0 206.6h0M55.2 202.0h0M39.8 173.7h0M58.5 168.0h0M54.6 192.9h0M58.4 189.5h0M39.9 177.4h0M38.8 142.4h0M49.3 141.5h0M53.2 191.6h0M55.9 146.1h0M55.4 191.7h0M55.4 185.4h0M54.8 178.6h0M59.3 191.4h0M53.7 192.6h0M52.2 193.5h0M57.4 211.6h0M59.5 212.4h0M59.3 173.4h0M57.6 176.3h0M57.2 156.4h0M59.4 181.1h0M59.2 207.7h0M59.6 180.0h0M54.9 177.2h0M59.0 192.0h0M53.8 162.4h0M54.2 173.4h0M55.6 186.0h0M58.6 195.0h0M55.8 176.9h0M55.8 186.3h0M58.3 211.8h0M36.2 161.1h0M51.9 204.5h0M53.0 192.1h0M55.0 202.8h0M53.7 189.9h0M57.5 159.2h0M59.4 201.9h0M53.5 183.8h0M56.1 198.3h0M53.5 181.3h0M58.3 183.3h0M44.4 170.5h0M47.1 171.4h0M55.7 175.8h0M58.4 211.9h0M57.9 194.6h0M51.5 183.9h0M57.0 197.9h0M59.4 185.0h0M53.9 181.5h0M57.2 187.1h0M57.5 175.5h0M57.7 184.5h0M54.2 208.4h0M56.5 172.0h0M57.1 200.3h0M51.9 204.9h0M56.3 190.5h0M50.7 184.9h0M58.7 164.4h0M56.9 194.3h0M58.6 180.8h0M53.0 148.0h0M43.6 190.1h0M41.7 186.9h0M58.8 201.1h0M59.4 189.4h0M49.0 186.8h0M58.1 177.4h0M52.9 176.0h0M56.5 169.2h0M46.4 176.9h0M53.2 188.8h0M56.6 167.0h0M55.5 185.9h0M51.8 169.0h0M58.5 160.7h0M54.4 201.2h0M52.3 201.6h0M57.9 202.8h0M55.8 171.9h0M56.3 194.0h0M53.6 178.5h0M52.6 174.4h0M55.3 184.4h0M47.1 153.3h0M56.7 180.5h0M55.8 192.6h0M57.7 170.5h0M47.6 183.3h0M59.4 168.1h0M53.9 203.2h0M53.7 179.0h0M55.2 193.1h0M56.7 204.5h0M55.0 186.0h0M57.2 199.7h0M58.2 209.3h0M43.1 153.6h0M56.2 196.9h0M57.7 141.3h0M57.2 188.2h0M35.0 174.2h0M50.0 192.0h0M58.5 185.3h0M34.4 178.9h0M53.6 195.5h0M52.2 137.9h0M59.3 171.1h0M56.5 207.6h0M57.6 187.6h0M55.7 201.4h0M56.0 208.4h0M52.0 182.9h0M55.2 151.7h0M57.4 201.2h0M55.2 178.2h0M54.4 184.0h0M54.5 166.9h0M56.4 179.5h0M46.8 179.8h0M49.3 150.3h0M53.5 188.9h0M57.9 202.8h0M44.0 167.0h0M35.9 175.4h0M57.6 181.4h0M59.3 171.1h0M55.4 199.1h0M43.8 190.9h0M57.9 189.6h0M57.0 205.9h0M51.6 207.1h0M44.2 187.8h0M48.7 171.2h0M57.1 178.4h0M57.1 187.4h0M53.0 183.6h0M54.3 141.4h0M55.6 177.1h0M54.3 184.4h0M58.3 192.6h0M56.6 180.4h0M56.6 170.4h0M54.0 184.5h0M57.6 179.3h0M52.1 176.4h0M56.0 197.2h0M53.2 152.1h0M59.0 194.0h0M56.9 194.7h0M57.6 192.2h0M55.9 184.4h0M51.9 184.8h0M46.1 180.8h0M50.4 187.7h0M57.3 178.8h0M48.5 171.7h0M52.6 189.9h0M51.5 165.7h0M56.3 203.4h0M37.0 156.4h0M51.7 177.6h0M55.7 179.9h0M57.6 210.7h0M57.9 192.5h0M50.1 169.5h0M54.7 191.4h0M50.5 180.0h0M58.7 166.2h0M50.7 182.9h0M52.7 201.2h0M54.5 188.9h0M57.0 202.4h0M47.3 170.3h0M54.7 201.1h0M57.4 189.6h0M45.1 185.1h0M59.5 177.0h0M39.3 161.0h0M46.7 190.6h0M59.4 201.3h0M54.8 190.1h0M57.2 173.0h0M57.1 209.7h0M53.7 188.0h0M56.2 179.0h0M53.1 208.3h0M41.5 157.8h0M50.9 146.4h0M53.4 151.0h0M56.2 181.0h0M55.3 191.8h0M53.7 200.3h0M58.0 202.8h0M56.7 177.8h0M39.4 157.3h0M50.4 193.8h0M58.2 207.5h0M55.1 198.9h0M52.9 174.9h0M37.0 181.6h0M57.4 171.7h0M54.6 158.3h0M45.0 157.7h0M56.5 210.6h0M48.1 188.7h0M55.5 188.5h0M57.9 157.4h0M59.4 180.6h0M56.0 196.8h0M58.1 200.2h0M54.0 195.4h0M49.8 184.7h0M55.5 208.6h0M58.7 197.8h0M55.1 189.8h0M55.9 202.5h0M56.2 197.0h0M55.5 178.7h0M53.4 199.6h0M56.2 212.2h0M58.2 186.5h0M57.3 158.7h0M57.9 192.2h0M58.0 202.2h0M47.4 183.3h0M54.7 157.4h0M56.9 177.0h0M54.0 185.7h0M54.5 207.3h0M38.1 172.3h0M56.7 191.7h0M59.0 189.3h0M54.1 192.6h0M53.6 175.7h0M53.7 188.4h0M56.7 208.2h0M49.3 199.6h0M50.2 202.3h0M55.6 189.7h0M56.6 193.7h0M50.3 188.0h0M47.9 179.4h0M52.8 189.4h0M55.8 138.1h0M55.1 207.9h0M46.6 183.4h0M44.2 161.2h0M53.1 164.0h0M55.9 209.1h0M54.3 187.7h0M42.6 166.1h0M56.5 186.8h0M46.5 185.1h0M38.9 170.4h0M53.7 199.3h0M47.6 168.8h0M59.1 153.2h0M53.8 164.3h0M53.9 184.9h0M53.1 192.3h0M57.4 164.6h0M50.4 135.3h0M57.9 172.1h0M54.2 205.8h0M54.8 191.0h0M40.9 146.3h0M49.3 161.0h0M59.3 175.1h0M57.7 198.8h0M52.5 182.7h0M49.3 178.8h0M58.3 180.6h0M58.6 210.0h0M46.3 180.8h0M39.3 164.2h0M53.5 182.9h0M48.1 194.3h0M58.4 196.2h0M54.4 197.2h0M57.6 195.5h0M51.0 209.2h0M52.7 194.6h0M54.2 200.1h0M56.5 189.0h0M57.6 160.2h0M55.0 196.3h0M45.1 187.0h0M50.3 178.0h0M50.5 160.3h0M53.8 174.8h0M51.2 169.4h0M46.8 201.2h0M49.1 171.2h0M52.4 135.1h0M54.0 176.6h0M58.7 210.2h0M48.3 194.8h0M55.6 177.6h0M49.9 194.4h0M57.7 192.2h0M55.6 188.4h0M52.9 159.4h0M55.2 186.1h0M50.8 139.1h0M57.9 199.4h0M53.0 156.8h0M42.2 152.3h0M54.6 183.2h0M50.5 189.5h0M55.5 191.3h0M56.6 158.5h0M51.5 163.4h0M55.8 154.5h0M50.7 197.4h0M58.0 205.4h0M56.2 190.9h0M52.9 156.4h0M55.6 198.7h0M56.0 186.5h0M53.6 211.5h0M58.8 183.7h0M57.9 159.4h0M58.0 183.3h0M49.3 167.2h0M53.4 171.9h0M55.2 174.0h0M40.6 193.6h0M55.4 191.5h0M59.1 211.7h0M56.3 204.0h0M57.5 184.1h0M58.3 200.1h0M56.7 155.0h0M30.4 161.9h0M56.5 181.9h0M59.2 187.9h0M57.7 203.2h0M52.4 172.9h0M58.8 177.6h0M57.0 201.8h0M46.0 167.0h0M58.1 184.4h0M51.9 149.5h0M39.3 182.9h0M44.2 169.5h0M55.7 170.6h0M47.9 169.1h0M57.7 194.7h0M54.3 194.2h0M47.6 189.5h0M56.8 170.9h0M50.9 175.5h0M57.0 186.4h0M57.7 212.2h0M52.3 167.9h0M57.9 189.8h0M56.0 161.1h0M54.3 183.3h0M54.0 189.2h0M58.1 190.8h0M54.9 204.6h0M58.2 170.1h0M36.6 175.7h0M54.9 142.3h0M46.1 160.2h0M59.1 182.0h0M55.2 188.5h0M53.7 180.1h0M42.3 175.9h0M57.3 193.8h0M59.0 146.6h0M58.8 183.6h0M46.4 158.1h0M38.6 151.4h0M59.0 198.3h0M55.5 198.0h0M56.6 173.7h0M56.3 202.7h0M34.3 178.3h0M59.0 190.7h0M59.1 183.3h0M58.4 210.9h0M58.3 158.0h0M46.3 161.8h0M54.7 212.4h0M55.1 197.1h0M56.3 183.3h0M57.0 176.6h0M52.8 173.3h0M59.3 193.7h0M55.7 192.6h0M59.6 174.8h0M58.0 179.5h0M55.1 153.3h0M54.3 163.0h0M59.5 204.0h0M54.0 198.2h0M57.9 194.7h0M53.0 187.3h0M34.0 152.5h0M58.1 180.8h0M56.7 172.5h0M53.8 199.6h0M54.7 186.8h0M54.1 177.4h0M56.3 155.3h0M50.1 173.8h0M59.3 169.0h0M59.0 208.1h0M46.7 171.7h0M58.7 210.3h0M54.2 191.5h0M47.5 179.8h0M54.9 184.9h0M55.6 180.4h0M35.1 163.5h0M38.1 160.5h0M53.0 190.9h0M54.2 203.9h0M57.2 184.1h0M50.7 192.6h0M57.5 193.8h0M57.4 179.9h0M54.5 186.3h0M34.9 176.5h0M52.7 191.2h0M51.4 205.6h0M53.9 195.6h0M57.6 204.2h0M53.2 171.4h0M53.5 199.7h0M40.2 184.0h0M57.3 197.2h0M35.9 179.4h0M50.3 158.3h0M51.7 182.7h0M58.4 170.8h0M43.2 183.0h0M43.8 169.1h0M47.3 189.0h0M46.1 178.2h0M42.7 181.2h0M45.0 167.9h0M59.4 178.9h0M53.2 190.5h0M47.4 173.0h0M34.0 145.6h0M53.2 190.3h0M56.4 183.2h0M56.4 169.0h0M56.8 145.1h0M50.0 185.0h0M59.1 145.7h0M48.0 165.3h0M55.7 185.1h0M35.5 161.9h0M53.1 195.3h0M35.8 173.9h0M59.0 181.6h0M53.3 143.1h0M56.7 203.1h0M53.0 192.1h0M56.6 199.3h0M54.7 210.3h0M52.3 155.1h0M58.6 194.4h0M56.2 204.3h0M58.5 148.9h0M59.4 200.6h0M48.9 185.7h0M43.9 180.6h0M47.7 165.7h0M56.5 210.2h0M58.6 209.1h0M38.6 158.4h0M57.1 199.9h0M36.5 179.0h0M52.7 166.1h0M53.6 186.0h0M58.0 212.1h0M52.1 208.2h0M54.2 174.7h0M56.5 142.1h0M56.8 208.5h0M54.7 199.9h0M45.7 154.8h0M47.0 161.5h0M59.3 210.1h0M54.0 204.5h0M42.3 167.5h0M58.3 164.4h0M56.1 202.3h0M56.8 175.5h0M55.7 211.1h0M43.1 138.2h0M56.1 160.9h0M57.7 171.5h0M56.6 199.8h0M40.4 184.1h0M32.3 168.8h0M57.8 150.5h0M41.2 168.2h0M54.0 180.0h0M55.3 201.0h0M31.4 163.9h0M41.5 135.5h0M38.3 155.3h0M55.1 179.2h0M57.2 172.3h0M57.2 202.9h0M55.9 195.5h0M55.4 197.3h0M55.5 175.9h0M55.4 175.5h0M53.2 194.9h0M56.5 203.5h0M55.2 188.2h0M59.1 179.8h0M58.3 180.6h0M56.7 176.6h0M49.8 183.9h0M57.9 175.9h0M53.9 200.8h0M56.3 180.4h0M58.3 195.7h0M53.6 178.3h0M54.6 194.8h0M54.3 188.3h0M57.3 181.2h0M47.4 181.4h0M58.8 193.8h0M54.5 148.4h0M57.5 192.7h0M44.7 189.5h0M54.2 146.8h0M50.1 148.6h0M55.6 176.7h0M58.5 203.3h0M39.7 187.3h0M59.1 192.4h0M54.5 200.5h0M57.9 190.2h0M55.2 181.8h0M58.3 172.2h0M57.7 170.3h0M57.8 193.7h0M51.0 137.1h0M54.9 188.6h0M43.5 169.9h0M57.4 179.0h0M46.6 151.2h0M49.0 176.8h0M57.9 170.9h0M59.2 180.0h0M56.0 181.2h0M52.5 160.7h0M56.1 178.0h0M53.2 150.4h0M57.8 185.2h0M35.5 158.6h0M54.6 194.2h0M57.8 174.5h0M56.1 209.7h0M56.9 169.4h0M50.1 165.4h0M54.4 186.8h0M57.1 210.8h0M49.1 159.9h0M55.4 137.2h0M55.1 188.2h0M52.1 175.5h0M53.2 186.7h0M40.4 156.3h0M54.4 143.0h0M54.9 185.0h0M58.1 200.6h0M57.3 186.6h0M58.1 166.3h0M58.9 186.7h0M56.7 202.4h0M50.9 177.3h0M46.2 176.1h0M35.4 158.3h0M40.7 152.1h0M55.5 175.3h0M51.8 168.4h0M54.9 195.4h0M49.2 191.6h0M40.2 174.7h0M56.5 180.0h0M55.7 190.2h0M57.2 143.5h0M53.9 195.0h0M52.7 186.7h0M58.2 203.6h0M52.0 153.5h0M42.3 135.0h0M43.5 153.4h0M52.7 176.4h0M55.3 204.1h0M38.6 152.6h0M50.9 201.8h0M58.8 187.9h0M54.8 186.8h0M55.0 178.8h0M55.1 199.7h0M54.2 185.4h0M59.0 175.0h0M55.0 212.4h0M44.4 138.9h0M52.4 147.4h0M56.4 173.4h0M59.3 211.4h0M54.3 152.5h0M49.9 157.6h0M54.2 192.8h0M54.7 184.9h0M41.5 135.3h0M58.3 181.4h0M58.1 212.3h0M35.1 177.1h0M52.1 177.8h0M49.9 156.8h0M57.3 170.7h0M54.4 203.7h0M54.6 176.2h0M56.7 138.8h0M57.4 203.2h0M56.0 168.0h0M54.0 135.5h0M54.2 153.7h0M50.6 175.3h0M58.9 151.5h0M38.7 161.9h0M37.3 161.2h0M53.8 194.0h0M57.0 196.1h0M48.2 206.1h0M42.5 180.0h0M58.0 153.4h0M55.5 195.1h0M49.3 199.4h0M58.3 204.8h0M47.4 182.8h0M58.6 174.8h0M56.0 182.6h0M35.3 183.3h0M39.5 167.2h0M50.9 181.1h0M54.9 207.5h0M55.8 195.7h0M57.1 153.9h0M55.0 207.7h0M56.4 206.8h0M45.2 164.3h0M57.1 173.2h0M43.5 139.6h0M57.6 187.7h0M37.6 173.9h0M57.6 184.9h0M43.6 142.3h0M50.5 172.9h0M34.3 150.3h0M44.0 158.8h0M54.2 179.8h0M56.5 200.5h0M54.5 178.8h0M56.7 183.9h0M59.3 205.3h0" stroke="#10d810" stroke-opacity="1.0" stroke-width="1.36" stroke-linecap="round" fill="none"/>
<path d="M69.2 208.0h0M68.0 201.8h0M69.3 191.3h0M69.7 201.9h0M63.7 198.7h0M63.9 191.5h0M62.7 195.0h0M62.8 207.0h0M62.4 190.4h0M67.3 210.5h0M59.6 157.6h0M63.6 186.9h0M61.3 205.9h0M69.3 189.0h0M63.0 207.4h0M60.2 178.9h0M63.2 211.0h0M59.7 191.7h0M58.5 194.8h0M58.1 188.1h0M58.9 208.1h0M69.1 198.5h0M60.9 174.6h0M66.3 199.3h0M60.7 180.4h0M62.5 202.7h0M70.7 212.8h0M69.6 190.4h0M66.9 202.6h0M60.4 173.3h0M67.8 195.0h0M59.0 198.9h0M67.5 193.0h0M64.7 209.1h0M67.3 190.5h0M66.7 210.9h0M60.8 172.7h0M69.4 180.8h0M60.8 190.0h0M59.9 172.8h0M65.2 203.1h0M68.9 196.7h0M58.7 200.1h0M61.2 211.9h0M60.2 171.7h0M61.0 172.1h0M66.7 201.9h0M60.6 179.9h0M63.0 178.2h0M60.5 210.7h0M65.7 199.6h0M60.1 211.2h0M68.8 212.7h0M63.0 176.8h0M60.0 207.9h0M60.5 210.6h0M62.3 176.4h0M69.3 194.4h0M65.9 212.6h0M64.3 195.4h0M61.8 183.9h0M59.7 172.5h0M68.1 212.7h0M69.0 207.7h0M65.8 206.5h0M63.5 183.3h0M65.1 209.6h0M60.9 177.2h0M63.2 200.0h0M65.2 211.4h0M58.8 196.8h0M60.8 182.5h0M59.2 188.2h0M67.6 194.5h0M63.0 205.5h0M69.8 179.5h0M63.4 203.5h0M67.6 191.6h0M61.1 197.1h0M61.3 198.8h0M62.3 204.9h0M68.9 183.9h0M62.2 169.0h0M68.1 197.2h0M58.3 184.8h0M59.5 209.6h0M68.4 189.5h0M60.6 187.0h0M68.4 203.4h0M63.8 174.0h0M59.0 174.3h0M62.4 167.4h0M63.8 200.0h0M64.6 196.1h0M65.1 208.7h0M65.9 211.8h0M61.4 190.6h0M63.0 211.9h0M70.3 209.4h0M68.8 193.8h0M67.9 207.1h0M69.4 199.9h0M67.2 192.5h0M69.3 190.3h0M62.4 202.9h0M60.6 186.6h0M68.8 203.6h0M59.7 156.0h0M60.1 213.2h0M63.3 189.4h0M67.6 199.0h0M67.8 194.0h0M62.1 207.0h0M63.2 207.3h0M62.3 194.5h0M58.3 192.1h0M69.6 207.6h0M69.4 196.4h0M67.5 199.4h0M61.1 155.7h0M60.0 182.3h0M60.8 159.1h0M60.8 175.5h0M67.1 202.9h0M63.6 213.0h0M58.6 208.9h0M63.6 212.6h0M62.1 177.1h0M61.2 185.5h0M64.6 194.3h0M62.9 204.5h0M60.5 179.3h0M61.9 185.1h0M59.2 196.8h0M59.8 209.1h0M67.8 192.4h0M69.7 190.1h0M61.2 171.0h0M62.1 154.8h0M61.7 188.2h0M63.3 175.0h0M58.0 180.7h0M66.1 204.2h0M63.5 210.8h0M66.2 208.4h0M59.7 195.6h0M61.5 174.1h0M59.6 200.7h0M59.7 172.5h0M60.9 169.9h0M59.7 177.2h0M62.6 208.1h0M58.9 195.9h0M62.7 155.5h0M59.6 210.9h0M62.9 204.6h0M64.8 204.6h0M60.0 192.1h0M62.5 171.1h0M68.4 203.3h0M67.9 212.3h0M66.9 203.9h0M62.6 179.7h0M66.9 203.6h0M68.9 189.4h0M69.6 212.6h0M59.7 198.3h0M61.7 195.5h0M69.6 207.0h0M67.2 192.5h0M62.7 201.2h0M62.1 195.7h0M69.7 207.1h0M58.7 205.5h0M65.3 212.3h0M59.7 200.3h0M62.4 174.8h0M60.8 182.7h0M62.0 207.8h0M68.0 188.2h0M61.5 180.8h0M61.7 180.1h0M60.5 198.2h0M66.4 211.3h0M62.5 204.1h0M69.4 205.1h0M65.7 209.7h0M68.9 210.3h0M69.9 183.3h0M60.2 171.8h0M58.4 213.0h0M59.8 204.2h0M61.9 163.1h0M69.6 187.6h0M63.2 203.5h0M67.8 188.7h0M60.1 171.5h0M64.3 200.5h0M60.9 194.5h0M70.0 191.8h0M62.0 161.9h0M62.7 185.7h0M62.0 201.8h0M62.4 204.6h0M62.4 183.6h0M60.9 198.4h0M58.6 205.8h0M60.0 208.9h0M59.1 205.8h0M69.7 192.2h0M67.7 212.9h0M63.7 195.0h0M60.7 188.6h0M69.6 181.0h0M59.1 180.7h0M69.8 187.0h0M60.0 182.7h0M68.0 196.3h0M64.9 212.4h0M60.6 201.1h0M60.5 193.9h0M63.6 194.6h0M67.6 209.3h0M60.7 179.0h0M65.0 206.1h0M63.0 210.2h0M62.7 198.9h0M66.6 212.2h0M61.6 172.2h0M59.0 210.3h0M61.4 205.5h0M59.6 189.1h0M63.9 199.9h0M59.3 208.0h0M61.3 181.1h0M60.8 187.4h0M69.4 204.1h0M65.9 195.5h0M61.2 173.3h0M68.6 194.0h0M70.2 196.8h0M64.1 195.7h0M69.9 193.8h0M64.9 196.6h0M68.8 209.7h0M62.3 174.0h0M60.3 174.9h0M61.4 180.1h0M67.0 201.7h0M61.7 198.0h0M60.3 184.9h0M66.8 212.9h0M69.0 190.3h0M62.0 211.8h0M68.4 195.9h0M62.3 185.9h0M69.3 204.1h0M61.3 206.7h0M68.9 203.1h0M60.1 189.4h0M61.8 188.5h0M61.3 169.3h0M61.2 166.6h0M69.1 204.2h0M63.7 204.6h0M69.0 204.2h0M64.3 207.9h0M69.8 188.3h0M67.9 193.3h0M61.2 186.0h0M62.4 194.7h0M62.6 194.7h0M63.1 198.3h0M69.1 211.8h0M61.7 183.7h0M59.7 198.4h0M61.8 203.5h0M62.2 208.3h0M68.5 195.9h0M68.1 203.3h0M61.3 198.3h0M68.3 213.3h0M69.9 185.5h0M60.5 168.8h0M62.1 168.2h0M64.7 212.1h0M69.4 189.2h0M61.8 154.6h0M60.8 182.0h0M62.7 183.9h0M61.0 170.2h0M58.2 181.9h0M62.7 204.3h0M69.0 183.8h0M69.1 205.6h0M69.7 212.0h0M67.8 195.8h0M68.3 197.9h0M61.5 173.0h0M60.5 199.9h0M66.3 199.9h0M61.0 154.3h0M68.2 201.2h0M62.4 180.3h0M60.0 209.2h0M69.5 194.6h0M68.6 190.8h0M68.2 203.2h0M69.3 182.9h0M63.5 206.2h0M59.7 206.4h0M58.0 186.9h0" stroke="#000" stroke-opacity="1.0" stroke-width="1.1" stroke-linecap="round" fill="none"/>
<path d="M59.6,168 L62.3,166 L63,175 L63.5,190 L64.6,206 L65.2,206 L67.5,190 L69.3,180 L70,179 L70,206 L70.8,213.3 L58.3,213.3 L59.6,206 Z" fill="#000"/>
<path d="M70,184 L72,183 L75,185 L77,192 L78,212.8 L70,212.8 Z" fill="#f00000"/>
<path d="M73.4 199.4h0M80.4 182.5h0M94.5 160.2h0M75.5 181.3h0M81.1 180.9h0M77.8 205.5h0M81.5 194.5h0M75.5 185.9h0M71.4 192.6h0M76.0 205.0h0M72.1 209.3h0M72.0 192.5h0M92.2 192.7h0M88.0 200.3h0M73.1 202.7h0M77.2 180.3h0M72.9 201.0h0M75.1 191.2h0M72.9 194.1h0M74.6 205.7h0M75.2 189.3h0M91.3 162.7h0M82.8 185.9h0M74.1 211.1h0M73.1 185.7h0M74.4 186.8h0M73.7 196.5h0M71.7 208.1h0M75.8 188.4h0M75.8 196.2h0M85.3 194.8h0M78.7 203.3h0M81.1 196.8h0M73.3 194.3h0M78.7 199.3h0M70.1 192.2h0M75.8 181.9h0M77.2 199.2h0M78.3 201.3h0M78.4 186.0h0M71.9 205.6h0M75.1 210.8h0M78.7 188.6h0M72.0 209.2h0M74.0 191.8h0M72.2 187.1h0M75.4 212.1h0M72.8 190.2h0M70.9 204.5h0M71.4 191.2h0M75.6 207.0h0M72.6 193.2h0M72.9 191.3h0M83.1 185.5h0M80.4 183.5h0M70.4 210.2h0M84.3 185.8h0M70.3 184.5h0M73.1 204.8h0M79.4 189.4h0M73.4 209.6h0M75.8 189.1h0M74.6 210.7h0M71.4 185.3h0M73.8 193.8h0M75.5 193.9h0M73.0 199.7h0M73.3 193.7h0M73.7 188.4h0M72.7 199.6h0M80.2 197.5h0M74.7 205.7h0M71.4 188.6h0M75.4 189.9h0M75.0 201.0h0M75.1 193.7h0M80.2 193.1h0M80.5 209.4h0M71.5 204.7h0M71.3 201.3h0M72.8 204.6h0M71.7 210.1h0M77.6 194.7h0M70.7 195.6h0M85.2 184.8h0M78.2 190.9h0M80.5 207.5h0M72.4 208.3h0M75.1 207.7h0M71.7 212.4h0M83.6 198.4h0M86.8 191.3h0M71.4 200.8h0M71.7 191.7h0M87.1 189.0h0M75.9 209.1h0M79.1 212.3h0M91.6 172.3h0M73.0 195.2h0M75.3 192.2h0M85.8 184.9h0M78.0 179.6h0M71.0 190.0h0M71.6 212.0h0M73.7 190.8h0M93.8 162.8h0M70.8 196.9h0M72.9 200.6h0M88.8 183.5h0M78.5 201.9h0M75.5 206.1h0M70.2 199.0h0M71.4 203.8h0M73.8 189.9h0M78.0 177.5h0M72.5 182.5h0M72.7 192.9h0M74.1 189.5h0M77.3 194.7h0M71.8 201.8h0M84.3 187.1h0M72.6 199.4h0M75.3 199.1h0M71.6 209.5h0M83.4 209.3h0M72.3 207.7h0M76.6 181.0h0M80.9 179.5h0M71.4 208.2h0M72.7 185.0h0M74.9 208.0h0M87.0 189.3h0M77.2 194.4h0M72.3 206.7h0M76.2 196.6h0M75.0 201.9h0M73.1 192.0h0M75.9 192.1h0M71.1 201.9h0M75.0 194.5h0M75.1 209.3h0M72.7 187.4h0M89.1 182.0h0M77.1 189.2h0M85.0 185.3h0M71.0 201.1h0M78.3 195.8h0M82.0 202.4h0M87.0 174.9h0M76.0 206.1h0M91.6 164.9h0M74.1 191.6h0M93.3 174.9h0M71.5 191.9h0M70.4 191.4h0M76.1 185.3h0M75.9 192.3h0M75.2 204.4h0M74.3 208.0h0M79.2 183.5h0M83.9 181.9h0M73.4 194.7h0M79.1 205.2h0M75.2 195.3h0M80.5 183.4h0M81.3 192.8h0M90.5 175.5h0M72.7 194.4h0M86.4 184.8h0M72.3 182.0h0M71.9 193.0h0M85.8 163.7h0M87.1 181.3h0M70.5 200.6h0M70.1 201.0h0M78.1 189.6h0M74.2 182.2h0M71.2 186.6h0M70.9 205.5h0M71.5 191.2h0M75.4 191.8h0M75.3 205.0h0M72.8 189.7h0M73.8 195.2h0M83.7 195.3h0M75.2 203.3h0M85.7 187.6h0M77.1 207.8h0M78.1 200.2h0M75.1 183.1h0M76.0 206.1h0M74.4 204.8h0M82.4 174.4h0M74.0 210.7h0M76.4 204.9h0M71.2 189.7h0M73.4 193.0h0M73.6 211.6h0M77.0 191.4h0M75.2 196.8h0M72.0 192.1h0M80.0 183.2h0M87.3 185.1h0M74.4 199.8h0M73.3 184.1h0M75.0 202.2h0M74.1 200.4h0M70.1 212.4h0M90.3 188.2h0M74.6 184.8h0M89.5 179.7h0M74.0 197.2h0M71.6 183.7h0M70.8 211.3h0M85.2 197.3h0M76.2 191.6h0M75.9 197.1h0M70.5 194.6h0M83.4 200.4h0M76.7 196.7h0M75.5 187.6h0M70.6 191.4h0M81.2 190.8h0M74.9 207.0h0M82.8 187.9h0M73.0 173.1h0M70.2 202.6h0M72.6 185.2h0M76.4 203.3h0M73.5 203.7h0M74.5 201.8h0M71.8 198.7h0M71.5 205.4h0M75.3 190.8h0M77.5 199.9h0M76.9 183.3h0M71.6 191.1h0M76.0 188.2h0M75.3 197.6h0M78.7 195.1h0M70.4 188.0h0M73.1 209.1h0M75.3 197.1h0M78.1 210.1h0M70.5 203.2h0M85.3 195.1h0M70.3 172.4h0M73.4 199.3h0M75.9 195.9h0M72.8 199.5h0M78.8 184.0h0M70.0 210.3h0M77.7 188.5h0M70.8 195.3h0M77.5 195.5h0M73.0 193.6h0M75.1 183.8h0M72.5 189.1h0M75.5 198.2h0M74.4 212.3h0M76.4 190.9h0M80.7 178.5h0M88.3 186.9h0M70.4 191.5h0M74.7 211.4h0M78.0 183.9h0M73.6 188.0h0M70.1 199.9h0M72.8 205.5h0M79.2 161.2h0M76.0 195.9h0M80.9 205.7h0M75.4 199.0h0M81.2 167.5h0M81.3 203.2h0M71.1 203.4h0M79.8 185.8h0M82.3 196.6h0M74.0 186.4h0M73.2 186.2h0M74.3 190.0h0M74.6 198.7h0M76.1 185.5h0M71.4 195.6h0M72.3 201.1h0M74.9 184.0h0M70.3 194.0h0M71.3 204.4h0M81.1 182.9h0M73.5 198.2h0M73.1 188.3h0M82.8 205.4h0M84.9 194.7h0M76.7 189.7h0M70.1 204.2h0M78.1 211.3h0M71.3 202.0h0M71.7 195.1h0M93.1 183.9h0M74.2 195.0h0M78.3 186.9h0M82.9 172.0h0M74.3 188.6h0M76.0 189.9h0M74.4 182.1h0M86.8 178.9h0M75.6 184.8h0M74.3 190.1h0M70.7 186.8h0M74.2 196.7h0M76.3 183.1h0M71.7 198.9h0M73.8 194.8h0M73.8 188.3h0M70.3 196.3h0M78.2 185.1h0M75.6 180.5h0M88.6 195.6h0M71.9 188.8h0M75.9 204.2h0M73.8 212.4h0M70.2 203.7h0M72.7 205.3h0M72.3 190.1h0M70.4 184.9h0M82.2 193.3h0M73.6 181.5h0M83.7 181.0h0M94.9 176.0h0M75.1 194.8h0M88.2 188.3h0M74.5 203.0h0M71.9 185.2h0M73.2 189.2h0M72.3 208.8h0M71.2 201.1h0M72.9 204.7h0M72.7 184.9h0M77.1 194.9h0M76.8 181.8h0M71.5 184.6h0M87.1 181.9h0M77.4 188.0h0M76.4 199.4h0M92.3 183.8h0M78.9 196.8h0M74.4 204.8h0M90.2 195.8h0M82.1 193.2h0M85.1 177.8h0M75.9 202.0h0M75.8 203.3h0M72.9 192.8h0M74.5 194.6h0M83.3 185.6h0M73.6 192.8h0M81.9 211.2h0M72.1 190.7h0M74.9 195.5h0M70.7 187.5h0M80.9 173.4h0M70.2 210.2h0M70.9 209.9h0M82.6 201.3h0M70.2 201.4h0M72.4 207.5h0M70.4 194.3h0M71.8 210.6h0M71.6 195.9h0M80.2 178.0h0M71.5 187.4h0M88.2 190.0h0M71.6 182.0h0M85.2 186.5h0M82.8 184.6h0M83.0 188.2h0M71.2 174.4h0M74.4 194.5h0M70.0 210.7h0M70.3 210.2h0M70.4 186.4h0M74.2 208.2h0M75.8 203.0h0M76.2 193.2h0M80.5 196.3h0M94.9 156.7h0M81.2 184.1h0M74.7 181.9h0M87.7 195.9h0M71.6 189.9h0M84.4 188.5h0M76.6 206.1h0M70.8 187.7h0M75.8 206.6h0M75.3 192.2h0M72.6 187.9h0M87.0 185.9h0M87.4 184.8h0M76.7 211.0h0M85.2 156.2h0M78.7 187.7h0M70.5 189.9h0M73.5 198.6h0M78.2 197.9h0M75.9 197.7h0M74.9 202.6h0M79.2 193.0h0M71.0 205.7h0M80.9 188.0h0M76.3 187.5h0M71.1 190.1h0M85.5 183.1h0M87.5 176.4h0M80.6 193.7h0M75.5 210.8h0M72.8 197.5h0M73.2 194.9h0M71.6 159.7h0M72.1 183.9h0M86.2 175.4h0M86.5 174.9h0M72.4 207.6h0M72.1 209.0h0M76.8 190.1h0M71.8 208.0h0M73.6 194.2h0M75.3 206.7h0M75.8 182.5h0M75.8 195.6h0M88.9 194.4h0M74.7 193.4h0M71.9 209.5h0M76.6 183.7h0M73.2 204.7h0M74.7 206.7h0M74.0 205.4h0M70.7 209.2h0M74.9 201.1h0M74.9 209.9h0M75.8 205.4h0M74.2 188.6h0M74.8 203.4h0M75.6 194.9h0M73.9 199.6h0M74.8 177.7h0M82.6 182.6h0M70.3 201.5h0M74.2 197.7h0M74.7 210.3h0M74.5 185.4h0M73.0 198.3h0M75.6 203.0h0M70.3 173.6h0M77.7 179.7h0M71.8 195.1h0M72.0 166.5h0M84.0 180.3h0M78.2 185.9h0M79.6 188.2h0M90.0 167.0h0M79.0 209.4h0M75.9 192.9h0M75.1 182.2h0M77.4 203.5h0M70.3 202.9h0M70.5 184.3h0M72.3 184.8h0M72.3 200.1h0M80.2 202.1h0M78.9 184.6h0M75.7 206.7h0M81.7 194.1h0M74.4 209.5h0M72.8 196.4h0M71.6 200.6h0M85.2 179.3h0M86.7 184.4h0" stroke="#f00000" stroke-opacity="1.0" stroke-width="1.3" stroke-linecap="round" fill="none"/>
<rect x="20.6" y="132.6" width="78.9" height="85.0" fill="none" stroke="#bdbdbd" stroke-width="0.45"/>
<line x1="20.7" y1="217.6" x2="20.7" y2="218.6" stroke="#555" stroke-width="0.3"/>
<text x="20.7" y="220.5" font-size="2.3" text-anchor="middle" font-weight="bold" fill="#444">-2.0</text>
<line x1="35.6" y1="217.6" x2="35.6" y2="218.6" stroke="#555" stroke-width="0.3"/>
<text x="35.6" y="220.5" font-size="2.3" text-anchor="middle" font-weight="bold" fill="#444">-1.5</text>
<line x1="50.3" y1="217.6" x2="50.3" y2="218.6" stroke="#555" stroke-width="0.3"/>
<text x="50.3" y="220.5" font-size="2.3" text-anchor="middle" font-weight="bold" fill="#444">-1.0</text>
<line x1="65" y1="217.6" x2="65" y2="218.6" stroke="#555" stroke-width="0.3"/>
<text x="65" y="220.5" font-size="2.3" text-anchor="middle" font-weight="bold" fill="#444">-0.5</text>
<line x1="79.9" y1="217.6" x2="79.9" y2="218.6" stroke="#555" stroke-width="0.3"/>
<text x="79.9" y="220.5" font-size="2.3" text-anchor="middle" font-weight="bold" fill="#444">0.0</text>
<line x1="94.6" y1="217.6" x2="94.6" y2="218.6" stroke="#555" stroke-width="0.3"/>
<text x="94.6" y="220.5" font-size="2.3" text-anchor="middle" font-weight="bold" fill="#444">0.5</text>
<line x1="19.6" y1="151" x2="20.6" y2="151" stroke="#555" stroke-width="0.3"/>
<text x="19.200000000000003" y="151.85" font-size="2.3" text-anchor="end" font-weight="bold" fill="#444">30</text>
<line x1="19.6" y1="172.5" x2="20.6" y2="172.5" stroke="#555" stroke-width="0.3"/>
<text x="19.200000000000003" y="173.35" font-size="2.3" text-anchor="end" font-weight="bold" fill="#444">20</text>
<line x1="19.6" y1="193.8" x2="20.6" y2="193.8" stroke="#555" stroke-width="0.3"/>
<text x="19.200000000000003" y="194.65" font-size="2.3" text-anchor="end" font-weight="bold" fill="#444">10</text>
<line x1="19.6" y1="214.6" x2="20.6" y2="214.6" stroke="#555" stroke-width="0.3"/>
<text x="19.200000000000003" y="215.45" font-size="2.3" text-anchor="end" font-weight="bold" fill="#444">0</text>
<text x="59.3" y="225.3" font-size="2.85" text-anchor="middle" font-weight="bold" fill="#222">logFC</text>
<text x="13.4" y="168" font-size="2.7" font-weight="bold" text-anchor="middle" fill="#222" transform="rotate(-90 13.4 168)" textLength="22" lengthAdjust="spacingAndGlyphs">-log10(adj.P.Val)</text>
<text x="103.5" y="168.5" font-size="2.8" text-anchor="start" font-weight="bold" fill="#222">Significant</text>
<circle cx="106.5" cy="173.05" r="0.75" fill="#30b030" fill-opacity="0.9"/>
<text x="110.9" y="173.8" font-size="2.3" text-anchor="start" font-weight="bold" fill="#333">Down</text>
<circle cx="106.5" cy="177.95000000000002" r="0.75" fill="#000" fill-opacity="0.9"/>
<text x="110.9" y="178.70000000000002" font-size="2.3" text-anchor="start" font-weight="bold" fill="#333">Not</text>
<circle cx="106.5" cy="182.85000000000002" r="0.75" fill="#c02020" fill-opacity="0.9"/>
<text x="110.9" y="183.60000000000002" font-size="2.3" text-anchor="start" font-weight="bold" fill="#333">Up</text>
<defs><linearGradient id="fadeg" x1="0" y1="0" x2="0" y2="1"><stop offset="0" stop-color="#000" stop-opacity="0.35"/><stop offset="1" stop-color="#000" stop-opacity="0"/></linearGradient></defs>
<path d="M168.9 18.4V76M171.3 18.4V76M173.8 18.4V76M176.2 18.4V76M178.7 18.4V76M181.1 18.4V76M183.6 18.4V76M186.0 18.4V76M188.5 18.4V76M190.9 18.4V76M193.4 18.4V76M195.8 18.4V76M198.3 18.4V76M200.7 18.4V76M203.2 18.4V76M205.6 18.4V76M208.1 18.4V76M210.5 18.4V76M213.0 18.4V76M215.4 18.4V76M217.9 18.4V76M220.3 18.4V76M222.8 18.4V76M225.2 18.4V76M227.7 18.4V76M230.1 18.4V76M232.6 18.4V76M235.0 18.4V76M237.5 18.4V76M239.9 18.4V76M242.4 18.4V76M244.8 18.4V76M247.3 18.4V76M249.7 18.4V76M252.2 18.4V76M254.6 18.4V76M257.1 18.4V76M259.5 18.4V76M262.0 18.4V76M264.4 18.4V76M266.9 18.4V76M269.3 18.4V76M271.8 18.4V76M274.2 18.4V76M276.7 18.4V76M279.1 18.4V76" stroke="#000" stroke-opacity="0.09" stroke-width="0.4" fill="none"/>
<path d="M169.36 17.4V22.0M169.07 17.4V22.3M168.81 17.4V22.1M168.82 17.4V22.9M169.57 17.4V22.3" stroke="#000" stroke-opacity="0.35" stroke-width="0.3" fill="none"/>
<path d="M172.74 17.4V35.2M171.37 17.4V35.3M172.15 17.4V31.2M173.03 17.4V35.3M172.76 17.4V30.0M171.72 17.4V30.0M173.07 17.4V26.7M173.39 17.4V30.7M171.83 17.4V35.2M172.49 17.4V26.8M173.04 17.4V35.2M172.70 17.4V28.8M172.15 17.4V34.3M172.50 17.4V30.0M172.66 17.4V31.4M172.20 17.4V29.4M171.90 17.4V33.8M171.61 17.4V35.8" stroke="#000" stroke-opacity="0.22" stroke-width="0.3" fill="none"/>
<path d="M175.64 17.4V24.5M177.02 17.4V25.5M176.10 17.4V26.6M177.13 17.4V28.9M177.19 17.4V29.4M176.23 17.4V31.9M176.88 17.4V28.9M175.66 17.4V26.6M175.90 17.4V28.5M176.33 17.4V25.9" stroke="#000" stroke-opacity="0.22" stroke-width="0.3" fill="none"/>
<path d="M181.31 17.4V28.9M179.07 17.4V28.6M182.06 17.4V29.9M183.78 17.4V32.0M179.56 17.4V28.7M180.99 17.4V25.7M183.51 17.4V33.6M181.40 17.4V28.7M179.93 17.4V30.2M179.77 17.4V26.2M183.62 17.4V31.1M179.13 17.4V30.1M183.27 17.4V27.2M182.66 17.4V29.0M179.73 17.4V28.8M181.48 17.4V26.6M183.01 17.4V30.7M181.54 17.4V31.4M182.91 17.4V27.5M182.01 17.4V33.9M179.74 17.4V25.6M182.71 17.4V27.5" stroke="#000" stroke-opacity="0.2" stroke-width="0.3" fill="none"/>
<path d="M185.75 17.4V36.2M186.06 17.4V31.1M185.89 17.4V36.9" stroke="#000" stroke-opacity="0.75" stroke-width="0.3" fill="none"/>
<path d="M187.81 17.4V26.6M187.17 17.4V25.1M187.89 17.4V24.1M187.39 17.4V26.1M188.42 17.4V22.3M188.12 17.4V22.8M187.27 17.4V24.5M187.95 17.4V26.0" stroke="#000" stroke-opacity="0.2" stroke-width="0.3" fill="none"/>
<path d="M191.50 17.4V28.5M191.16 17.4V32.4M192.70 17.4V29.3M192.86 17.4V32.6M191.96 17.4V27.5M191.59 17.4V28.9M191.82 17.4V29.6M192.48 17.4V31.9M191.19 17.4V27.4M192.33 17.4V25.7" stroke="#000" stroke-opacity="0.22" stroke-width="0.3" fill="none"/>
<path d="M194.25 17.4V23.7M194.31 17.4V23.5M194.36 17.4V22.3M194.55 17.4V24.7M195.18 17.4V22.9M195.38 17.4V23.2" stroke="#000" stroke-opacity="0.2" stroke-width="0.3" fill="none"/>
<path d="M198.08 17.4V26.9M197.04 17.4V26.9M197.23 17.4V27.8M197.34 17.4V22.6M198.92 17.4V27.0M197.88 17.4V26.5M197.01 17.4V27.8M198.71 17.4V23.0" stroke="#000" stroke-opacity="0.25" stroke-width="0.3" fill="none"/>
<path d="M202.92 17.4V24.2M201.78 17.4V22.1M203.40 17.4V21.8M201.38 17.4V22.4M202.69 17.4V24.9M201.47 17.4V24.9M202.55 17.4V24.7M201.66 17.4V21.9" stroke="#000" stroke-opacity="0.2" stroke-width="0.3" fill="none"/>
<path d="M205.44 17.4V25.3M205.66 17.4V24.7M205.68 17.4V23.5M206.39 17.4V25.8M206.35 17.4V23.3M206.36 17.4V22.0M205.50 17.4V26.3M207.16 17.4V23.9M205.51 17.4V26.1M206.97 17.4V24.0" stroke="#000" stroke-opacity="0.2" stroke-width="0.3" fill="none"/>
<path d="M209.68 17.4V34.0M209.47 17.4V30.9M209.49 17.4V34.1" stroke="#000" stroke-opacity="0.45" stroke-width="0.3" fill="none"/>
<path d="M212.31 17.4V25.0M212.54 17.4V24.4M212.93 17.4V26.4M212.89 17.4V29.8" stroke="#000" stroke-opacity="0.25" stroke-width="0.3" fill="none"/>
<path d="M224.92 17.4V25.7M222.73 17.4V31.7M224.30 17.4V27.2M225.50 17.4V31.7M225.83 17.4V26.5M220.10 17.4V29.3M225.82 17.4V29.1M219.74 17.4V30.6M219.77 17.4V30.4M219.90 17.4V29.8M223.53 17.4V26.2M222.48 17.4V29.9M225.34 17.4V31.9M222.59 17.4V30.8M223.65 17.4V27.6M220.96 17.4V27.5M225.98 17.4V30.2M221.34 17.4V27.4M221.68 17.4V28.2M221.29 17.4V31.9M225.75 17.4V29.6M220.80 17.4V31.6M222.35 17.4V24.8M225.87 17.4V26.8M222.09 17.4V31.2M223.05 17.4V27.5M221.43 17.4V32.5M223.82 17.4V25.2M219.65 17.4V30.9M225.75 17.4V28.3M222.23 17.4V24.9M224.83 17.4V29.3M225.43 17.4V32.4M223.27 17.4V28.7M225.20 17.4V29.8M223.53 17.4V32.9M223.58 17.4V30.5M223.51 17.4V27.7M224.13 17.4V29.5M225.48 17.4V32.9" stroke="#000" stroke-opacity="0.3" stroke-width="0.3" fill="none"/>
<path d="M222.85 17.4V33.7M222.96 17.4V32.7M222.80 17.4V33.6M222.80 17.4V38.8" stroke="#000" stroke-opacity="0.6" stroke-width="0.3" fill="none"/>
<path d="M227.86 17.4V25.5M227.88 17.4V26.5M229.29 17.4V22.9M227.95 17.4V23.0M228.07 17.4V25.7M228.05 17.4V28.4M228.90 17.4V23.3M229.06 17.4V28.3M227.69 17.4V28.5M227.86 17.4V25.6" stroke="#000" stroke-opacity="0.3" stroke-width="0.3" fill="none"/>
<path d="M232.71 17.4V24.6M232.71 17.4V23.1M232.26 17.4V26.7M232.92 17.4V24.3M231.68 17.4V22.9M232.39 17.4V24.8M231.06 17.4V23.3M231.16 17.4V25.2" stroke="#000" stroke-opacity="0.3" stroke-width="0.3" fill="none"/>
<path d="M236.05 17.4V30.5M236.18 17.4V34.8M236.03 17.4V33.2" stroke="#000" stroke-opacity="0.4" stroke-width="0.3" fill="none"/>
<path d="M239.04 17.4V22.3M239.30 17.4V22.7M237.53 17.4V24.1M239.18 17.4V21.1M238.86 17.4V22.3M238.25 17.4V24.4M239.04 17.4V21.5M238.77 17.4V24.3" stroke="#000" stroke-opacity="0.3" stroke-width="0.3" fill="none"/>
<path d="M245.13 17.4V21.2M247.50 17.4V24.4M246.86 17.4V21.7M246.58 17.4V21.9M244.94 17.4V21.2M245.61 17.4V22.4M245.14 17.4V22.8M244.75 17.4V24.2" stroke="#000" stroke-opacity="0.3" stroke-width="0.3" fill="none"/>
<path d="M252.86 17.4V23.6M250.11 17.4V24.4M252.13 17.4V25.4M250.45 17.4V24.6M250.92 17.4V23.0M253.02 17.4V22.6M251.55 17.4V23.4M251.86 17.4V25.6M251.01 17.4V24.9M251.58 17.4V26.0M253.65 17.4V24.4M253.00 17.4V23.1" stroke="#000" stroke-opacity="0.3" stroke-width="0.3" fill="none"/>
<path d="M258.17 17.4V26.1M255.02 17.4V24.1M258.76 17.4V26.4M256.59 17.4V27.1M255.57 17.4V22.8M257.89 17.4V25.6M256.00 17.4V22.9M256.78 17.4V25.6M258.05 17.4V25.6M258.09 17.4V24.2M255.50 17.4V22.4M256.77 17.4V27.5" stroke="#000" stroke-opacity="0.3" stroke-width="0.3" fill="none"/>
<path d="M273.50 17.4V25.3M272.49 17.4V25.0M273.41 17.4V28.1M271.58 17.4V25.0M272.74 17.4V28.3M273.62 17.4V23.4M270.50 17.4V25.7M270.89 17.4V28.6M271.95 17.4V23.8M273.65 17.4V27.7M270.82 17.4V28.1M273.77 17.4V26.8M272.35 17.4V23.9M273.77 17.4V24.1" stroke="#000" stroke-opacity="0.3" stroke-width="0.3" fill="none"/>
<path d="M221.17 17.4V28.0M239.11 17.4V26.0M234.84 17.4V28.5M229.87 17.4V28.8M234.64 17.4V25.4M226.23 17.4V27.4M227.00 17.4V25.1M239.75 17.4V24.6M236.05 17.4V27.9M221.04 17.4V24.4M222.79 17.4V26.6M230.57 17.4V23.5M237.37 17.4V26.8M235.56 17.4V28.6M233.37 17.4V25.6M222.44 17.4V24.6M229.44 17.4V29.4M238.31 17.4V25.3M226.66 17.4V29.3M225.16 17.4V26.7M235.93 17.4V27.5M227.31 17.4V25.2M231.71 17.4V24.0M221.44 17.4V29.2M233.07 17.4V27.1M225.88 17.4V29.5M238.55 17.4V25.9M226.61 17.4V26.2M225.29 17.4V27.2M223.84 17.4V25.6M228.13 17.4V26.5M227.74 17.4V25.6M237.26 17.4V28.1M224.03 17.4V29.3M231.93 17.4V25.0M232.36 17.4V24.2M241.78 17.4V24.4M235.74 17.4V28.2M231.26 17.4V24.2M235.27 17.4V24.0M232.85 17.4V28.9M236.69 17.4V23.9M234.56 17.4V27.0M237.33 17.4V29.1M235.40 17.4V26.0M235.05 17.4V25.8M224.85 17.4V29.9M237.64 17.4V24.3M219.77 17.4V26.0M219.42 17.4V28.3" stroke="#000" stroke-opacity="0.12" stroke-width="0.3" fill="none"/>
<path d="M256.11 17.4V25.3M251.54 17.4V23.3M249.69 17.4V24.3M256.85 17.4V24.8M257.99 17.4V27.8M259.13 17.4V26.5M257.85 17.4V26.1M245.51 17.4V27.2M247.34 17.4V28.6M256.63 17.4V25.8M244.25 17.4V27.0M255.20 17.4V24.8M247.89 17.4V26.6M255.08 17.4V26.6M258.52 17.4V25.5M249.24 17.4V26.6M248.65 17.4V26.9M248.29 17.4V23.3M255.00 17.4V24.5M251.48 17.4V27.5M257.61 17.4V25.6M254.25 17.4V24.4M244.10 17.4V28.8M256.28 17.4V26.4M260.21 17.4V28.7M254.57 17.4V24.7M247.65 17.4V25.6M249.96 17.4V24.4M248.08 17.4V28.8M247.68 17.4V28.6M253.76 17.4V24.0M245.92 17.4V26.5M251.50 17.4V26.7M256.35 17.4V25.2M250.96 17.4V23.2M249.83 17.4V26.2M245.37 17.4V28.4M253.03 17.4V27.0M261.62 17.4V24.7M257.46 17.4V26.7" stroke="#000" stroke-opacity="0.12" stroke-width="0.3" fill="none"/>
<path d="M268.31 17.4V23.1M269.67 17.4V22.4M262.63 17.4V24.0M267.08 17.4V21.3M262.72 17.4V22.9M268.71 17.4V23.5M266.99 17.4V23.8M262.22 17.4V20.7M266.91 17.4V22.4M269.47 17.4V20.9" stroke="#000" stroke-opacity="0.1" stroke-width="0.3" fill="none"/>
<path d="M210.34 17.4V26.2M170.73 17.4V24.8M190.20 17.4V23.2M205.47 17.4V24.3M205.17 17.4V27.5M182.77 17.4V27.7M194.45 17.4V25.0M184.86 17.4V24.9M186.67 17.4V27.9M198.16 17.4V26.5M170.84 17.4V26.5M201.40 17.4V25.4M173.58 17.4V25.3M211.92 17.4V22.6M191.17 17.4V27.0M180.80 17.4V26.9M192.24 17.4V24.6M190.45 17.4V22.9M206.68 17.4V24.0M183.13 17.4V24.6M197.95 17.4V22.7M182.57 17.4V27.6M168.69 17.4V27.9M181.97 17.4V24.7M209.41 17.4V24.0M181.38 17.4V22.7M190.42 17.4V24.5M174.67 17.4V27.4M191.12 17.4V26.1M202.15 17.4V23.9M207.15 17.4V23.9M190.97 17.4V26.5M174.71 17.4V26.4M180.03 17.4V25.7M168.48 17.4V27.8M192.14 17.4V27.1M186.46 17.4V23.1M187.22 17.4V24.8M207.03 17.4V23.2M173.12 17.4V26.5M175.72 17.4V23.3M179.13 17.4V25.5M192.41 17.4V22.8M206.38 17.4V25.7M181.61 17.4V26.7M173.29 17.4V23.0M182.96 17.4V24.3M207.19 17.4V27.9M203.39 17.4V24.4M212.77 17.4V26.2M195.76 17.4V27.0M198.22 17.4V25.6M177.13 17.4V23.0M178.12 17.4V22.9M177.41 17.4V24.0M174.77 17.4V27.8M205.14 17.4V27.6M187.27 17.4V28.0M202.13 17.4V25.4M185.79 17.4V24.9" stroke="#000" stroke-opacity="0.08" stroke-width="0.3" fill="none"/>
<path d="M259.96 17.4V31.5M220.95 17.4V30.5M221.15 17.4V41.5M246.33 17.4V36.7M219.55 17.4V33.8M230.33 17.4V37.1M256.21 17.4V34.0M252.17 17.4V33.4M235.96 17.4V41.3M238.16 17.4V36.0M256.14 17.4V39.2M247.32 17.4V42.0M235.38 17.4V33.4M256.59 17.4V43.4M219.54 17.4V32.3M231.78 17.4V40.8M219.12 17.4V43.4M240.72 17.4V43.5M250.79 17.4V40.1M239.20 17.4V43.2M240.77 17.4V41.8M224.62 17.4V34.3M235.05 17.4V42.8M231.24 17.4V40.9M248.08 17.4V38.9M248.06 17.4V32.2M246.14 17.4V30.9M236.17 17.4V37.9M230.58 17.4V34.1M238.30 17.4V40.2M233.64 17.4V35.7M252.76 17.4V34.4M225.87 17.4V39.3M254.42 17.4V32.9M232.66 17.4V32.7M259.03 17.4V33.0M246.36 17.4V30.9M233.97 17.4V30.2M230.64 17.4V32.8M234.05 17.4V31.0M236.76 17.4V37.9M231.32 17.4V32.1M229.90 17.4V34.4M231.19 17.4V37.7M233.91 17.4V30.8" stroke="#000" stroke-opacity="0.13" stroke-width="0.3" fill="none"/>
<path d="M278.97 17.4V33.0M265.83 17.4V33.3M275.00 17.4V34.2M270.27 17.4V32.2M276.12 17.4V33.0M271.92 17.4V34.6M271.64 17.4V27.1M279.44 17.4V35.5M269.84 17.4V32.3M270.82 17.4V28.8M275.14 17.4V27.2M265.48 17.4V32.8M275.02 17.4V28.8M272.69 17.4V32.3M265.28 17.4V34.5M266.33 17.4V35.1M264.32 17.4V28.7M272.01 17.4V28.0" stroke="#000" stroke-opacity="0.13" stroke-width="0.3" fill="none"/>
<path d="M170.83 17.4V30.7M203.40 17.4V39.0M198.96 17.4V33.2M192.67 17.4V37.1M180.97 17.4V30.3M178.33 17.4V32.8M202.36 17.4V36.3M204.74 17.4V33.3M193.68 17.4V32.7M182.47 17.4V29.2M193.42 17.4V39.2M176.66 17.4V33.8M188.68 17.4V37.8M182.18 17.4V33.3M209.34 17.4V33.3M188.16 17.4V36.4M170.47 17.4V29.3M205.41 17.4V29.6M211.11 17.4V32.4M207.84 17.4V37.0M168.95 17.4V34.3M186.87 17.4V38.7M183.24 17.4V29.7M177.46 17.4V33.4M201.32 17.4V31.3" stroke="#000" stroke-opacity="0.08" stroke-width="0.3" fill="none"/>
<rect x="167.6" y="16.4" width="45.900000000000006" height="2.1" fill="#000"/>
<rect x="167.6" y="18.5" width="45.900000000000006" height="2" fill="url(#fadeg)"/>
<rect x="218.6" y="16.4" width="22.900000000000006" height="2.3" fill="#000"/>
<rect x="218.6" y="18.7" width="22.900000000000006" height="2" fill="url(#fadeg)"/>
<rect x="244" y="16.4" width="4" height="2.2" fill="#000"/>
<rect x="244" y="18.599999999999998" width="4" height="2" fill="url(#fadeg)"/>
<rect x="249" y="16.4" width="12.5" height="2.2" fill="#000"/>
<rect x="249" y="18.599999999999998" width="12.5" height="2" fill="url(#fadeg)"/>
<rect x="270" y="16.4" width="4.5" height="2.2" fill="#000"/>
<rect x="270" y="18.599999999999998" width="4.5" height="2" fill="url(#fadeg)"/>
<path d="M211.5 17.4C214.5 17.6 216.6 21 217.2 30L217.6 74.5" stroke="#000" stroke-width="0.8" fill="none" stroke-linecap="round"/>
<path d="M239.5 17.4C241.8 17.8 243 20.5 243.2 26" stroke="#000" stroke-width="0.9" fill="none" stroke-linecap="round"/>
<path d="M247 17.4C248.3 18.5 248.8 22 248.9 26.8" stroke="#000" stroke-width="0.8" fill="none" stroke-linecap="round"/>
<path d="M260 17.4C261.8 18.2 262.5 22 262.7 27.8" stroke="#000" stroke-width="0.8" fill="none" stroke-linecap="round"/>
<path d="M261 17.4C264.5 17.6 267.5 20 269 30L270.4 42" stroke="#000" stroke-width="0.75" fill="none" stroke-linecap="round"/>
<path d="M273.5 17.4C276.5 17.6 279 21 279.9 32L280.2 44" stroke="#000" stroke-width="0.75" fill="none" stroke-linecap="round"/>
<path d="M264 17.3H270" stroke="#000" stroke-width="0.6" fill="none" stroke-linecap="round"/>
<path d="M167.6 16.4V69" stroke="#000" stroke-opacity="0.8" stroke-width="0.45"/>
<path d="M162.7 17V73" stroke="#9a9a9a" stroke-width="0.35" fill="none"/>
<path d="M162.7 17h-1" stroke="#9a9a9a" stroke-width="0.35"/>
<text x="158.79999999999998" y="17" font-size="2.5" text-anchor="middle" font-weight="bold" fill="#222" transform="rotate(-90 158.79999999999998 17)">1.0</text>
<path d="M162.7 31h-1" stroke="#9a9a9a" stroke-width="0.35"/>
<text x="158.79999999999998" y="31" font-size="2.5" text-anchor="middle" font-weight="bold" fill="#222" transform="rotate(-90 158.79999999999998 31)">0.9</text>
<path d="M162.7 45h-1" stroke="#9a9a9a" stroke-width="0.35"/>
<text x="158.79999999999998" y="45" font-size="2.5" text-anchor="middle" font-weight="bold" fill="#222" transform="rotate(-90 158.79999999999998 45)">0.8</text>
<path d="M162.7 58.8h-1" stroke="#9a9a9a" stroke-width="0.35"/>
<text x="158.79999999999998" y="58.8" font-size="2.5" text-anchor="middle" font-weight="bold" fill="#222" transform="rotate(-90 158.79999999999998 58.8)">0.7</text>
<path d="M162.7 73h-1" stroke="#9a9a9a" stroke-width="0.35"/>
<text x="158.79999999999998" y="73" font-size="2.5" text-anchor="middle" font-weight="bold" fill="#222" transform="rotate(-90 158.79999999999998 73)">0.6</text>
<text x="152.8" y="46.7" font-size="2.6" text-anchor="middle" font-weight="bold" fill="#111" transform="rotate(-90 152.8 46.7)">Height</text>
<text x="191.8" y="10.1" font-size="3.05" font-weight="bold" fill="#000" stroke="#000" stroke-width="0.12" textLength="64.9" lengthAdjust="spacingAndGlyphs">Gene dendrogram and module colors(TCGA)</text>
<rect x="167.7" y="79.7" width="1.55" height="15.0" fill="#5a5a2a"/>
<rect x="169.2" y="79.7" width="1.35" height="15.0" fill="#707032"/>
<rect x="170.5" y="79.7" width="2.25" height="15.0" fill="#68682e"/>
<rect x="172.7" y="79.7" width="3.05" height="15.0" fill="#6a6228"/>
<rect x="175.7" y="79.7" width="2.65" height="15.0" fill="#6a5a7a"/>
<rect x="178.3" y="79.7" width="1.55" height="15.0" fill="#7a7a50"/>
<rect x="179.8" y="79.7" width="2.35" height="15.0" fill="#4a8a3a"/>
<rect x="182.1" y="79.7" width="1.55" height="15.0" fill="#4a5a4a"/>
<rect x="183.6" y="79.7" width="2.25" height="15.0" fill="#6a7080"/>
<rect x="185.8" y="79.7" width="1.55" height="15.0" fill="#3a5a3a"/>
<rect x="187.3" y="79.7" width="3.45" height="15.0" fill="#8a8a3a"/>
<rect x="190.7" y="79.7" width="1.55" height="15.0" fill="#4a6a3a"/>
<rect x="192.2" y="79.7" width="27.25" height="15.0" fill="#40e0c8"/>
<rect x="219.4" y="79.7" width="1.65" height="15.0" fill="#1a3a1a"/>
<rect x="221" y="79.7" width="1.25" height="15.0" fill="#b09090"/>
<rect x="222.2" y="79.7" width="1.25" height="15.0" fill="#3a2a3a"/>
<rect x="223.4" y="79.7" width="2.45" height="15.0" fill="#6a4a8a"/>
<rect x="225.8" y="79.7" width="1.25" height="15.0" fill="#9a3a6a"/>
<rect x="227" y="79.7" width="1.25" height="15.0" fill="#5a3a6a"/>
<rect x="228.2" y="79.7" width="1.65" height="15.0" fill="#a04040"/>
<rect x="229.8" y="79.7" width="2.05" height="15.0" fill="#b06030"/>
<rect x="231.8" y="79.7" width="2.45" height="15.0" fill="#8a9a30"/>
<rect x="234.2" y="79.7" width="1.65" height="15.0" fill="#b05a30"/>
<rect x="235.8" y="79.7" width="7.55" height="15.0" fill="#b02a2a"/>
<rect x="243.3" y="79.7" width="1.65" height="15.0" fill="#2a8a7a"/>
<rect x="244.9" y="79.7" width="2.05" height="15.0" fill="#1a5a6a"/>
<rect x="246.9" y="79.7" width="1.15" height="15.0" fill="#2a1a5a"/>
<rect x="248" y="79.7" width="2.05" height="15.0" fill="#ff10ff"/>
<rect x="250" y="79.7" width="1.05" height="15.0" fill="#101050"/>
<rect x="251" y="79.7" width="4.05" height="15.0" fill="#1e40a8"/>
<rect x="255" y="79.7" width="4.55" height="15.0" fill="#1414c0"/>
<rect x="259.5" y="79.7" width="0.75" height="15.0" fill="#101030"/>
<rect x="260.2" y="79.7" width="1.85" height="15.0" fill="#20f040"/>
<rect x="262" y="79.7" width="1.05" height="15.0" fill="#102030"/>
<rect x="263" y="79.7" width="6.85" height="15.0" fill="#0a0aff"/>
<rect x="269.8" y="79.7" width="0.95" height="15.0" fill="#c8c8e0"/>
<rect x="270.7" y="79.7" width="7.65" height="15.0" fill="#ffee00"/>
<rect x="278.3" y="79.7" width="1.55" height="15.0" fill="#fff060"/>
<text x="165.9" y="88.2" font-size="2.7" text-anchor="end" fill="#111" font-weight="bold" textLength="17.2" lengthAdjust="spacingAndGlyphs">Dynamic Tree Cut</text>
<path d="M168.9 144.1V201M171.3 144.1V201M173.8 144.1V201M176.2 144.1V201M178.7 144.1V201M181.1 144.1V201M183.6 144.1V201M186.0 144.1V201M188.5 144.1V201M190.9 144.1V201M193.4 144.1V201M195.8 144.1V201M198.3 144.1V201M200.7 144.1V201M203.2 144.1V201M205.6 144.1V201M208.1 144.1V201M210.5 144.1V201M213.0 144.1V201M215.4 144.1V201M217.9 144.1V201M220.3 144.1V201M222.8 144.1V201M225.2 144.1V201M227.7 144.1V201M230.1 144.1V201M232.6 144.1V201M235.0 144.1V201M237.5 144.1V201M239.9 144.1V201M242.4 144.1V201M244.8 144.1V201M247.3 144.1V201M249.7 144.1V201M252.2 144.1V201M254.6 144.1V201M257.1 144.1V201M259.5 144.1V201M262.0 144.1V201M264.4 144.1V201M266.9 144.1V201M269.3 144.1V201M271.8 144.1V201M274.2 144.1V201M276.7 144.1V201M279.1 144.1V201" stroke="#000" stroke-opacity="0.09" stroke-width="0.4" fill="none"/>
<path d="M169.22 143.1V157.1M169.65 143.1V155.1M170.38 143.1V150.9M170.25 143.1V154.8M170.92 143.1V156.8M168.27 143.1V151.7M168.32 143.1V158.7M170.83 143.1V156.0M168.95 143.1V155.9M170.41 143.1V150.9M170.69 143.1V153.0M170.02 143.1V155.1M168.74 143.1V151.2M170.94 143.1V157.0" stroke="#000" stroke-opacity="0.35" stroke-width="0.3" fill="none"/>
<path d="M172.69 143.1V162.9M172.93 143.1V162.4M173.04 143.1V161.4M172.97 143.1V161.5" stroke="#000" stroke-opacity="0.6" stroke-width="0.3" fill="none"/>
<path d="M185.33 143.1V153.2M182.57 143.1V154.8M183.46 143.1V153.4M180.71 143.1V150.4M179.56 143.1V150.5M174.66 143.1V152.6M187.88 143.1V154.0M175.47 143.1V151.8M188.77 143.1V150.8M183.15 143.1V149.1M176.88 143.1V154.7M184.38 143.1V153.4M173.67 143.1V150.4M183.29 143.1V153.5M184.44 143.1V153.2M174.51 143.1V149.6M185.14 143.1V152.5M183.99 143.1V152.7M171.02 143.1V149.7M170.04 143.1V154.3M174.85 143.1V152.0M171.13 143.1V150.2M169.75 143.1V153.3M171.94 143.1V150.1M184.56 143.1V152.4M179.61 143.1V153.1M171.63 143.1V154.3M177.27 143.1V151.0M172.41 143.1V149.4M186.44 143.1V154.9M178.79 143.1V149.4M173.84 143.1V153.9M177.66 143.1V152.1M180.63 143.1V153.0M182.80 143.1V150.2M187.83 143.1V149.5M175.41 143.1V153.6M173.30 143.1V151.8M175.07 143.1V149.8M186.89 143.1V152.2M184.09 143.1V153.2M169.43 143.1V154.9M184.67 143.1V152.2M179.10 143.1V152.0M174.43 143.1V152.1M175.19 143.1V149.9M173.82 143.1V152.8M172.78 143.1V150.0M188.39 143.1V151.5M180.44 143.1V154.2M183.60 143.1V154.3M189.51 143.1V150.2M183.60 143.1V151.5M181.07 143.1V149.3M172.72 143.1V150.7M183.25 143.1V153.5M189.47 143.1V149.4M183.15 143.1V149.4M184.46 143.1V149.1M187.95 143.1V153.6" stroke="#000" stroke-opacity="0.18" stroke-width="0.3" fill="none"/>
<path d="M176.51 143.1V150.4M174.70 143.1V150.8M176.73 143.1V150.2M174.81 143.1V148.6M176.20 143.1V148.5M175.77 143.1V148.0M176.04 143.1V151.5M175.06 143.1V151.9" stroke="#000" stroke-opacity="0.3" stroke-width="0.3" fill="none"/>
<path d="M182.03 143.1V151.2M182.75 143.1V149.2M182.16 143.1V151.0" stroke="#000" stroke-opacity="0.5" stroke-width="0.3" fill="none"/>
<path d="M185.12 143.1V148.5M188.40 143.1V149.8M188.98 143.1V147.0M185.69 143.1V149.3M188.66 143.1V150.7M185.95 143.1V149.0M188.32 143.1V147.0M187.94 143.1V147.4M187.00 143.1V148.3M188.58 143.1V147.1" stroke="#000" stroke-opacity="0.3" stroke-width="0.3" fill="none"/>
<path d="M191.40 143.1V148.5M190.79 143.1V148.2M192.16 143.1V149.9M192.85 143.1V146.5M192.67 143.1V147.4M190.63 143.1V149.9M191.48 143.1V147.8M191.38 143.1V147.4" stroke="#000" stroke-opacity="0.3" stroke-width="0.3" fill="none"/>
<path d="M200.46 143.1V152.4M201.06 143.1V157.1M201.93 143.1V156.6M200.45 143.1V154.4M200.22 143.1V158.0" stroke="#000" stroke-opacity="0.5" stroke-width="0.3" fill="none"/>
<path d="M205.29 143.1V148.2M206.54 143.1V147.4M205.24 143.1V149.2M206.05 143.1V149.5M206.00 143.1V149.9M204.87 143.1V149.3M205.21 143.1V147.8M204.38 143.1V147.5" stroke="#000" stroke-opacity="0.3" stroke-width="0.3" fill="none"/>
<path d="M210.68 143.1V154.0M211.14 143.1V156.8M210.96 143.1V156.1" stroke="#000" stroke-opacity="0.45" stroke-width="0.3" fill="none"/>
<path d="M214.38 143.1V151.9M213.83 143.1V154.4M213.81 143.1V159.4" stroke="#000" stroke-opacity="0.45" stroke-width="0.3" fill="none"/>
<path d="M212.04 143.1V149.1M212.71 143.1V147.8M213.66 143.1V150.5M214.39 143.1V149.6M213.22 143.1V149.4M213.04 143.1V147.2M213.40 143.1V147.1M215.16 143.1V149.7" stroke="#000" stroke-opacity="0.3" stroke-width="0.3" fill="none"/>
<path d="M220.38 143.1V156.9M220.24 143.1V155.9M219.62 143.1V153.7" stroke="#000" stroke-opacity="0.45" stroke-width="0.3" fill="none"/>
<path d="M226.28 143.1V147.7M224.37 143.1V148.5M224.38 143.1V148.5M221.20 143.1V146.8M226.25 143.1V148.2M223.74 143.1V147.3M221.08 143.1V149.2M222.85 143.1V149.1M222.98 143.1V148.9M226.03 143.1V149.6M225.36 143.1V147.8M225.13 143.1V149.1M222.67 143.1V148.0M225.81 143.1V146.8" stroke="#000" stroke-opacity="0.3" stroke-width="0.3" fill="none"/>
<path d="M242.27 143.1V150.2M242.99 143.1V150.4M242.87 143.1V151.9" stroke="#000" stroke-opacity="0.45" stroke-width="0.3" fill="none"/>
<path d="M247.55 143.1V151.5M247.59 143.1V152.6M247.89 143.1V151.8" stroke="#000" stroke-opacity="0.45" stroke-width="0.3" fill="none"/>
<path d="M252.96 143.1V149.9M253.39 143.1V156.1M252.58 143.1V150.7" stroke="#000" stroke-opacity="0.45" stroke-width="0.3" fill="none"/>
<path d="M247.90 143.1V146.8M245.23 143.1V148.7M244.92 143.1V147.0M246.29 143.1V148.9M238.89 143.1V148.4M241.35 143.1V147.7M243.49 143.1V148.2M249.59 143.1V146.9M243.67 143.1V148.0M240.11 143.1V148.8M240.03 143.1V148.1M235.74 143.1V148.0" stroke="#000" stroke-opacity="0.2" stroke-width="0.3" fill="none"/>
<path d="M268.29 143.1V147.0M268.82 143.1V147.7M265.37 143.1V147.9M266.76 143.1V148.9M265.65 143.1V148.0M267.35 143.1V147.5M268.36 143.1V147.5M267.00 143.1V147.0M268.76 143.1V146.7M267.59 143.1V149.8" stroke="#000" stroke-opacity="0.3" stroke-width="0.3" fill="none"/>
<path d="M272.20 143.1V149.3M272.65 143.1V150.0M272.43 143.1V149.3M272.25 143.1V148.3M274.72 143.1V151.2M274.18 143.1V150.4M271.62 143.1V147.5M273.70 143.1V149.9M271.51 143.1V149.2M272.90 143.1V148.5" stroke="#000" stroke-opacity="0.3" stroke-width="0.3" fill="none"/>
<path d="M168.04 143.1V157.6M171.52 143.1V154.1M169.77 143.1V161.7M172.53 143.1V160.8M172.11 143.1V163.8M175.91 143.1V163.5M174.26 143.1V153.5M175.48 143.1V160.7M168.71 143.1V157.7M173.57 143.1V154.1M172.31 143.1V154.0M170.80 143.1V162.8M173.50 143.1V162.7M171.29 143.1V154.5M170.31 143.1V155.2M173.81 143.1V162.9M174.21 143.1V154.0M173.46 143.1V159.1M174.73 143.1V155.1M172.52 143.1V158.7M171.30 143.1V156.7M173.58 143.1V158.6M174.03 143.1V155.8M170.46 143.1V159.8M167.75 143.1V163.3M174.76 143.1V156.2M172.65 143.1V162.0M171.64 143.1V158.9M171.42 143.1V159.5M173.60 143.1V154.7" stroke="#000" stroke-opacity="0.25" stroke-width="0.3" fill="none"/>
<path d="M177.54 143.1V151.0M182.11 143.1V153.1M183.52 143.1V150.1M181.05 143.1V153.8M192.65 143.1V151.5M179.33 143.1V157.2M184.48 143.1V150.9M184.81 143.1V151.4M181.19 143.1V151.2M193.99 143.1V154.5M185.24 143.1V152.2M180.11 143.1V154.5M181.42 143.1V157.4M191.74 143.1V152.3M192.98 143.1V157.2M191.70 143.1V153.7M190.27 143.1V156.8M177.74 143.1V153.4M182.71 143.1V157.8M191.54 143.1V157.8M192.70 143.1V156.9M192.77 143.1V155.4M185.04 143.1V152.7M184.93 143.1V151.9M179.13 143.1V154.0M182.58 143.1V151.5M183.22 143.1V152.6M183.60 143.1V152.6M187.48 143.1V156.4M182.18 143.1V155.0M189.65 143.1V157.5M192.81 143.1V157.0M179.72 143.1V152.7M184.97 143.1V150.5M193.19 143.1V153.0M189.14 143.1V157.1M185.44 143.1V153.5M193.12 143.1V153.0M180.50 143.1V153.6M184.49 143.1V157.7" stroke="#000" stroke-opacity="0.18" stroke-width="0.3" fill="none"/>
<path d="M217.34 143.1V148.4M213.14 143.1V151.0M216.83 143.1V150.3M205.11 143.1V151.4M219.76 143.1V149.6M218.67 143.1V149.1M207.22 143.1V150.9M204.90 143.1V148.8M204.56 143.1V150.6M211.18 143.1V151.2M206.95 143.1V149.8M215.51 143.1V147.7M206.29 143.1V150.1M212.15 143.1V149.8M220.24 143.1V148.9M206.04 143.1V147.8M207.33 143.1V149.3M214.43 143.1V148.6M205.08 143.1V151.7M210.36 143.1V148.3M203.49 143.1V149.0M206.48 143.1V149.9M202.63 143.1V151.3M215.62 143.1V148.5M210.98 143.1V149.6M206.24 143.1V149.1M209.82 143.1V149.6M202.88 143.1V148.2M209.47 143.1V148.8M225.71 143.1V148.8M221.68 143.1V148.5M212.57 143.1V148.0M204.60 143.1V149.1M208.00 143.1V149.0M219.38 143.1V150.9M205.41 143.1V149.4M211.70 143.1V148.1M205.46 143.1V149.4M204.69 143.1V149.4M224.02 143.1V150.8M222.90 143.1V148.9M206.32 143.1V149.1M223.98 143.1V150.2M205.65 143.1V147.4M226.55 143.1V148.1M213.44 143.1V151.0M209.73 143.1V147.7M228.22 143.1V148.6M225.69 143.1V148.4M216.15 143.1V151.3" stroke="#000" stroke-opacity="0.22" stroke-width="0.3" fill="none"/>
<path d="M183.83 143.1V146.6M168.58 143.1V149.1M182.29 143.1V149.4M173.02 143.1V148.1M168.69 143.1V147.4M169.20 143.1V148.6M185.29 143.1V147.7M167.96 143.1V148.7M192.05 143.1V149.8M168.55 143.1V148.9M182.42 143.1V147.6M193.66 143.1V149.0M173.47 143.1V149.3M191.20 143.1V147.3M185.42 143.1V147.2M175.25 143.1V148.1M183.66 143.1V148.8M186.03 143.1V149.1M171.09 143.1V149.8M189.05 143.1V147.0M179.70 143.1V148.3M173.79 143.1V148.0M180.38 143.1V149.2M189.87 143.1V149.2M169.97 143.1V148.4M174.25 143.1V149.5M186.54 143.1V148.7M181.14 143.1V149.6M168.51 143.1V149.3M191.70 143.1V148.4M169.88 143.1V148.1M185.01 143.1V149.5M192.14 143.1V147.6M177.74 143.1V147.0M170.98 143.1V149.5M193.64 143.1V148.6M180.34 143.1V148.2M191.95 143.1V149.4M179.78 143.1V147.8M190.92 143.1V148.6" stroke="#000" stroke-opacity="0.25" stroke-width="0.3" fill="none"/>
<path d="M168.58 143.1V155.3M168.26 143.1V162.0M168.75 143.1V156.3M168.51 143.1V157.7" stroke="#000" stroke-opacity="0.7" stroke-width="0.3" fill="none"/>
<path d="M170.25 143.1V157.8M170.10 143.1V155.8M169.89 143.1V157.4M169.88 143.1V157.0" stroke="#000" stroke-opacity="0.6" stroke-width="0.3" fill="none"/>
<path d="M172.65 143.1V154.6M173.12 143.1V159.8M172.66 143.1V160.4M172.75 143.1V158.2" stroke="#000" stroke-opacity="0.7" stroke-width="0.3" fill="none"/>
<path d="M177.94 143.1V150.2M177.77 143.1V148.5M177.62 143.1V147.4" stroke="#000" stroke-opacity="0.6" stroke-width="0.3" fill="none"/>
<path d="M186.31 143.1V150.8M186.50 143.1V149.2M186.76 143.1V148.6" stroke="#000" stroke-opacity="0.6" stroke-width="0.3" fill="none"/>
<path d="M189.95 143.1V147.0M190.39 143.1V147.3M189.88 143.1V146.7" stroke="#000" stroke-opacity="0.5" stroke-width="0.3" fill="none"/>
<path d="M203.56 143.1V149.9M203.39 143.1V149.9M203.53 143.1V147.8" stroke="#000" stroke-opacity="0.5" stroke-width="0.3" fill="none"/>
<path d="M224.65 143.1V151.3M224.65 143.1V147.7M224.25 143.1V148.4" stroke="#000" stroke-opacity="0.5" stroke-width="0.3" fill="none"/>
<path d="M194 142.4H280.6" stroke="#000" stroke-opacity="0.35" stroke-width="0.3"/>
<rect x="167.6" y="142.1" width="5.700000000000017" height="2.4" fill="#000"/>
<rect x="167.6" y="144.5" width="5.700000000000017" height="2" fill="url(#fadeg)"/>
<rect x="174.6" y="142.1" width="3.5999999999999943" height="2.4" fill="#000"/>
<rect x="174.6" y="144.5" width="3.5999999999999943" height="2" fill="url(#fadeg)"/>
<rect x="178.8" y="142.1" width="15.199999999999989" height="2.4" fill="#000"/>
<rect x="178.8" y="144.5" width="15.199999999999989" height="2" fill="url(#fadeg)"/>
<rect x="202.5" y="142.1" width="6.0" height="2.3" fill="#000"/>
<rect x="202.5" y="144.4" width="6.0" height="2" fill="url(#fadeg)"/>
<rect x="210" y="142.1" width="7.5" height="2.3" fill="#000"/>
<rect x="210" y="144.4" width="7.5" height="2" fill="url(#fadeg)"/>
<rect x="219" y="142.1" width="9.5" height="2.3" fill="#000"/>
<rect x="219" y="144.4" width="9.5" height="2" fill="url(#fadeg)"/>
<rect x="264" y="142.1" width="5.5" height="2.2" fill="#000"/>
<rect x="264" y="144.29999999999998" width="5.5" height="2" fill="url(#fadeg)"/>
<rect x="271" y="142.1" width="4.5" height="2.2" fill="#000"/>
<rect x="271" y="144.29999999999998" width="4.5" height="2" fill="url(#fadeg)"/>
<path d="M192.5 143.5C194.5 147 197.5 156 199.6 167" stroke="#000" stroke-width="1.1" fill="none" stroke-linecap="round"/>
<path d="M197.5 144C199 148 200 151 200.5 155.5" stroke="#000" stroke-width="0.7" fill="none" stroke-linecap="round"/>
<path d="M207 143.3C208.3 144.5 208.8 146.5 208.9 149" stroke="#000" stroke-width="0.8" fill="none" stroke-linecap="round"/>
<path d="M216 143.3C217.8 144.5 218.6 147 218.8 150" stroke="#000" stroke-width="0.8" fill="none" stroke-linecap="round"/>
<path d="M227.5 143.3C229.3 144.5 230 147 230.2 150.5" stroke="#000" stroke-width="0.8" fill="none" stroke-linecap="round"/>
<path d="M228.5 143.6C236 144.2 248 146 254 151C259 155 262.5 162 264 171" stroke="#000" stroke-width="1.3" fill="none" stroke-linecap="round"/>
<path d="M229 144.5C236 145.5 247 147.5 253 152.5C258 157 261.5 163 263.5 169" stroke="#000" stroke-width="0.8" fill="none" stroke-linecap="round"/>
<path d="M267.5 143.5C269.5 145 270.8 148 271 152" stroke="#000" stroke-width="0.8" fill="none" stroke-linecap="round"/>
<path d="M273 143.5C275.5 146 276.7 151 277 156" stroke="#000" stroke-width="0.8" fill="none" stroke-linecap="round"/>
<path d="M276.5 143.5C279 146 280.3 152 280.5 159" stroke="#000" stroke-width="0.8" fill="none" stroke-linecap="round"/>
<path d="M167.6 142.1V200" stroke="#000" stroke-opacity="0.8" stroke-width="0.45"/>
<path d="M162.7 142.3V199" stroke="#9a9a9a" stroke-width="0.35" fill="none"/>
<path d="M162.7 142.3h-1" stroke="#9a9a9a" stroke-width="0.35"/>
<text x="158.79999999999998" y="142.3" font-size="2.5" text-anchor="middle" font-weight="bold" fill="#222" transform="rotate(-90 158.79999999999998 142.3)">1.0</text>
<path d="M162.7 150.4h-1" stroke="#9a9a9a" stroke-width="0.35"/>
<text x="158.79999999999998" y="150.4" font-size="2.5" text-anchor="middle" font-weight="bold" fill="#222" transform="rotate(-90 158.79999999999998 150.4)">0.9</text>
<path d="M162.7 158.5h-1" stroke="#9a9a9a" stroke-width="0.35"/>
<text x="158.79999999999998" y="158.5" font-size="2.5" text-anchor="middle" font-weight="bold" fill="#222" transform="rotate(-90 158.79999999999998 158.5)">0.8</text>
<path d="M162.7 166.6h-1" stroke="#9a9a9a" stroke-width="0.35"/>
<text x="158.79999999999998" y="166.6" font-size="2.5" text-anchor="middle" font-weight="bold" fill="#222" transform="rotate(-90 158.79999999999998 166.6)">0.7</text>
<path d="M162.7 174.7h-1" stroke="#9a9a9a" stroke-width="0.35"/>
<text x="158.79999999999998" y="174.7" font-size="2.5" text-anchor="middle" font-weight="bold" fill="#222" transform="rotate(-90 158.79999999999998 174.7)">0.6</text>
<path d="M162.7 182.8h-1" stroke="#9a9a9a" stroke-width="0.35"/>
<text x="158.79999999999998" y="182.8" font-size="2.5" text-anchor="middle" font-weight="bold" fill="#222" transform="rotate(-90 158.79999999999998 182.8)">0.5</text>
<path d="M162.7 190.9h-1" stroke="#9a9a9a" stroke-width="0.35"/>
<text x="158.79999999999998" y="190.9" font-size="2.5" text-anchor="middle" font-weight="bold" fill="#222" transform="rotate(-90 158.79999999999998 190.9)">0.4</text>
<path d="M162.7 199h-1" stroke="#9a9a9a" stroke-width="0.35"/>
<text x="158.79999999999998" y="199" font-size="2.5" text-anchor="middle" font-weight="bold" fill="#222" transform="rotate(-90 158.79999999999998 199)">0.3</text>
<text x="152.8" y="171" font-size="2.6" text-anchor="middle" font-weight="bold" fill="#111" transform="rotate(-90 152.8 171)">Height</text>
<text x="192.5" y="135.6" font-size="3.05" font-weight="bold" fill="#000" stroke="#000" stroke-width="0.12" textLength="62.5" lengthAdjust="spacingAndGlyphs">Gene dendrogram and module colors(GEO)</text>
<rect x="167.6" y="205.2" width="1.25" height="14.300000000000011" fill="#6a5a7a"/>
<rect x="168.8" y="205.2" width="1.65" height="14.300000000000011" fill="#8a70a0"/>
<rect x="170.4" y="205.2" width="3.65" height="14.300000000000011" fill="#8a2ae0"/>
<rect x="174" y="205.2" width="1.25" height="14.300000000000011" fill="#3a4a6a"/>
<rect x="175.2" y="205.2" width="2.85" height="14.300000000000011" fill="#4a7aa0"/>
<rect x="178" y="205.2" width="1.25" height="14.300000000000011" fill="#4a5a5a"/>
<rect x="179.2" y="205.2" width="1.65" height="14.300000000000011" fill="#5a8a80"/>
<rect x="180.8" y="205.2" width="2.45" height="14.300000000000011" fill="#5a8aa0"/>
<rect x="183.2" y="205.2" width="0.85" height="14.300000000000011" fill="#8a8a8a"/>
<rect x="184" y="205.2" width="1.65" height="14.300000000000011" fill="#a04a3a"/>
<rect x="185.6" y="205.2" width="1.25" height="14.300000000000011" fill="#3a3a3a"/>
<rect x="186.8" y="205.2" width="1.25" height="14.300000000000011" fill="#8a8a8a"/>
<rect x="188" y="205.2" width="0.75" height="14.300000000000011" fill="#c0c0c0"/>
<rect x="188.7" y="205.2" width="1.65" height="14.300000000000011" fill="#1a2050"/>
<rect x="190.3" y="205.2" width="1.25" height="14.300000000000011" fill="#d0d0a0"/>
<rect x="191.5" y="205.2" width="2.05" height="14.300000000000011" fill="#c0f050"/>
<rect x="193.5" y="205.2" width="2.05" height="14.300000000000011" fill="#d8f040"/>
<rect x="195.5" y="205.2" width="2.95" height="14.300000000000011" fill="#f8f020"/>
<rect x="198.4" y="205.2" width="1.25" height="14.300000000000011" fill="#f0d0d0"/>
<rect x="199.6" y="205.2" width="2.45" height="14.300000000000011" fill="#e020e0"/>
<rect x="202" y="205.2" width="1.65" height="14.300000000000011" fill="#7a2a9a"/>
<rect x="203.6" y="205.2" width="1.25" height="14.300000000000011" fill="#7a5a5a"/>
<rect x="204.8" y="205.2" width="1.25" height="14.300000000000011" fill="#5a8a8a"/>
<rect x="206" y="205.2" width="1.65" height="14.300000000000011" fill="#6a5a7a"/>
<rect x="207.6" y="205.2" width="1.25" height="14.300000000000011" fill="#5a3a6a"/>
<rect x="208.8" y="205.2" width="1.25" height="14.300000000000011" fill="#c0d0d0"/>
<rect x="210" y="205.2" width="3.65" height="14.300000000000011" fill="#40c8d0"/>
<rect x="213.6" y="205.2" width="0.85" height="14.300000000000011" fill="#c0d0d0"/>
<rect x="214.4" y="205.2" width="4.35" height="14.300000000000011" fill="#000000"/>
<rect x="218.7" y="205.2" width="1.35" height="14.300000000000011" fill="#c0e0c0"/>
<rect x="220" y="205.2" width="1.15" height="14.300000000000011" fill="#90e890"/>
<rect x="221.1" y="205.2" width="2.05" height="14.300000000000011" fill="#50e0a0"/>
<rect x="223.1" y="205.2" width="1.65" height="14.300000000000011" fill="#a0e0c0"/>
<rect x="224.7" y="205.2" width="4.95" height="14.300000000000011" fill="#ff1818"/>
<rect x="229.6" y="205.2" width="11.65" height="14.300000000000011" fill="#40e0c8"/>
<rect x="241.2" y="205.2" width="2.05" height="14.300000000000011" fill="#1a5a5a"/>
<rect x="243.2" y="205.2" width="20.55" height="14.300000000000011" fill="#40e0c8"/>
<rect x="263.7" y="205.2" width="1.55" height="14.300000000000011" fill="#1a2aa0"/>
<rect x="265.2" y="205.2" width="1.55" height="14.300000000000011" fill="#101060"/>
<rect x="266.7" y="205.2" width="3.45" height="14.300000000000011" fill="#10f010"/>
<rect x="270.1" y="205.2" width="1.55" height="14.300000000000011" fill="#102060"/>
<rect x="271.6" y="205.2" width="4.85" height="14.300000000000011" fill="#1010ff"/>
<rect x="276.4" y="205.2" width="1.55" height="14.300000000000011" fill="#5060ff"/>
<rect x="277.9" y="205.2" width="2.35" height="14.300000000000011" fill="#0808e0"/>
<text x="165.9" y="213.8" font-size="2.7" text-anchor="end" fill="#111" font-weight="bold" textLength="17.2" lengthAdjust="spacingAndGlyphs">Dynamic Tree Cut</text>
<path d="M261.41 166.1V171.6M257.20 159.4V164.9M229.04 143.6V148.7M245.03 147.4V152.4M245.42 147.6V152.9M229.01 143.6V149.3M231.82 143.7V147.4M243.07 146.3V152.6M254.29 155.5V160.5M257.20 159.4V164.8M243.29 146.4V149.8M250.54 151.5V154.6M251.35 152.3V158.7M230.98 143.6V147.4M235.00 143.9V146.8M240.32 145.2V151.1M230.62 143.6V148.0M232.03 143.7V148.2M256.79 158.8V161.7M240.19 145.1V148.6M237.08 144.3V150.4M233.24 143.7V148.7M250.04 151.1V153.9M246.46 148.3V150.9M251.94 152.9V157.8M245.21 147.5V149.9M257.74 160.1V164.3M253.14 154.2V156.2M230.35 143.6V150.2M234.10 143.8V147.5M251.12 152.1V155.8M238.55 144.6V148.7M250.59 151.6V157.0M249.48 150.6V152.3M237.74 144.4V147.6M247.13 148.7V150.9M257.63 160.0V163.0M233.01 143.7V149.1M235.64 144.0V146.8M248.89 150.1V156.1M236.76 144.2V148.9M235.68 144.0V146.2M258.28 160.9V165.6M234.03 143.8V147.3M256.72 158.7V163.6M248.40 149.7V156.4M238.33 144.6V146.4M236.17 144.1V150.4M257.55 159.9V165.4M252.93 154.0V155.5M240.88 145.4V151.4M237.45 144.4V148.0M248.27 149.6V154.0M252.46 153.5V156.3M235.65 144.0V146.7M254.50 155.8V159.4M245.42 147.6V151.0M256.99 159.1V163.3M253.19 154.3V155.8M254.46 155.7V160.8" stroke="#000" stroke-opacity="0.35" stroke-width="0.3" fill="none"/>
<path d="M197.75 161.9V166.5M194.27 149.7V153.7M192.98 145.2V148.9M192.82 144.6V149.5M197.69 161.7V163.7M198.24 163.6V166.5M192.62 143.9V145.8M193.07 145.5V150.1M196.69 158.2V160.0M193.32 146.4V149.3M196.07 156.0V158.8M196.61 157.9V159.7M197.81 162.1V163.3M194.36 150.0V152.4M192.56 143.7V148.6M193.52 147.1V148.3M196.67 158.1V159.4M196.26 156.7V160.3M198.29 163.8V166.1M198.71 165.2V169.6M197.64 161.5V166.1M197.37 160.5V164.3M195.11 152.6V156.9M194.44 150.3V154.8M193.25 146.1V149.8" stroke="#000" stroke-opacity="0.4" stroke-width="0.3" fill="none"/>
<defs><linearGradient id="cbar" x1="0" y1="0" x2="0" y2="1"><stop offset="0" stop-color="#c8312a"/><stop offset="0.25" stop-color="#f0a080"/><stop offset="0.5" stop-color="#f8f8f8"/><stop offset="0.75" stop-color="#8cb8e8"/><stop offset="1" stop-color="#2a78d0"/></linearGradient></defs>
<rect x="329.2" y="14.50" width="5.40" height="7.75" fill="#a52a2a"/>
<rect x="335.1" y="14.50" width="26.25" height="7.75" fill="#bcd6f0"/>
<rect x="361.05" y="14.50" width="25.95" height="7.75" fill="#f5c0b0"/>
<text x="328.2" y="19.02" font-size="2.7" text-anchor="end" font-weight="bold" fill="#333">MEbrown</text>
<text x="348.08" y="17.82" font-size="1.95" text-anchor="middle" font-weight="bold" fill="#111">-0.21</text>
<text x="348.08" y="19.93" font-size="1.95" text-anchor="middle" font-weight="bold" fill="#111">(4e-04)</text>
<text x="374.02" y="17.82" font-size="1.95" text-anchor="middle" font-weight="bold" fill="#111">0.21</text>
<text x="374.02" y="19.93" font-size="1.95" text-anchor="middle" font-weight="bold" fill="#111">(4e-04)</text>
<rect x="329.2" y="21.65" width="5.40" height="7.75" fill="#a020f0"/>
<rect x="335.1" y="21.65" width="26.25" height="7.75" fill="#e6eef8"/>
<rect x="361.05" y="21.65" width="25.95" height="7.75" fill="#f8e4de"/>
<text x="328.2" y="26.17" font-size="2.7" text-anchor="end" font-weight="bold" fill="#333">MEpurple</text>
<text x="348.08" y="24.97" font-size="1.95" text-anchor="middle" font-weight="bold" fill="#111">-0.1</text>
<text x="348.08" y="27.07" font-size="1.95" text-anchor="middle" font-weight="bold" fill="#111">(0.1)</text>
<text x="374.02" y="24.97" font-size="1.95" text-anchor="middle" font-weight="bold" fill="#111">0.1</text>
<text x="374.02" y="27.07" font-size="1.95" text-anchor="middle" font-weight="bold" fill="#111">(0.1)</text>
<rect x="329.2" y="28.80" width="5.40" height="7.75" fill="#ff00ff"/>
<rect x="335.1" y="28.80" width="26.25" height="7.75" fill="#e0ebf7"/>
<rect x="361.05" y="28.80" width="25.95" height="7.75" fill="#f8dcd4"/>
<text x="328.2" y="33.33" font-size="2.7" text-anchor="end" font-weight="bold" fill="#333">MEmagenta</text>
<text x="348.08" y="32.12" font-size="1.95" text-anchor="middle" font-weight="bold" fill="#111">-0.12</text>
<text x="348.08" y="34.23" font-size="1.95" text-anchor="middle" font-weight="bold" fill="#111">(0.05)</text>
<text x="374.02" y="32.12" font-size="1.95" text-anchor="middle" font-weight="bold" fill="#111">0.12</text>
<text x="374.02" y="34.23" font-size="1.95" text-anchor="middle" font-weight="bold" fill="#111">(0.05)</text>
<rect x="329.2" y="35.95" width="5.40" height="7.75" fill="#40e0d0"/>
<rect x="335.1" y="35.95" width="26.25" height="7.75" fill="#fbded6"/>
<rect x="361.05" y="35.95" width="25.95" height="7.75" fill="#d0e2f4"/>
<text x="328.2" y="40.48" font-size="2.7" text-anchor="end" font-weight="bold" fill="#333">MEturquoise</text>
<text x="348.08" y="39.28" font-size="1.95" text-anchor="middle" font-weight="bold" fill="#111">0.14</text>
<text x="348.08" y="41.38" font-size="1.95" text-anchor="middle" font-weight="bold" fill="#111">(0.02)</text>
<text x="374.02" y="39.28" font-size="1.95" text-anchor="middle" font-weight="bold" fill="#111">-0.14</text>
<text x="374.02" y="41.38" font-size="1.95" text-anchor="middle" font-weight="bold" fill="#111">(0.02)</text>
<rect x="329.2" y="43.10" width="5.40" height="7.75" fill="#000000"/>
<rect x="335.1" y="43.10" width="26.25" height="7.75" fill="#f4623c"/>
<rect x="361.05" y="43.10" width="25.95" height="7.75" fill="#3f90ec"/>
<text x="328.2" y="47.63" font-size="2.7" text-anchor="end" font-weight="bold" fill="#333">MEblack</text>
<text x="348.08" y="46.43" font-size="1.95" text-anchor="middle" font-weight="bold" fill="#111">0.67</text>
<text x="348.08" y="48.53" font-size="1.95" text-anchor="middle" font-weight="bold" fill="#111">(1e-38)</text>
<text x="374.02" y="46.43" font-size="1.95" text-anchor="middle" font-weight="bold" fill="#111">-0.67</text>
<text x="374.02" y="48.53" font-size="1.95" text-anchor="middle" font-weight="bold" fill="#111">(1e-38)</text>
<rect x="329.2" y="50.25" width="5.40" height="7.75" fill="#0000ff"/>
<rect x="335.1" y="50.25" width="26.25" height="7.75" fill="#f4643e"/>
<rect x="361.05" y="50.25" width="25.95" height="7.75" fill="#4192ec"/>
<text x="328.2" y="54.78" font-size="2.7" text-anchor="end" font-weight="bold" fill="#333">MEblue</text>
<text x="348.08" y="53.58" font-size="1.95" text-anchor="middle" font-weight="bold" fill="#111">0.66</text>
<text x="348.08" y="55.68" font-size="1.95" text-anchor="middle" font-weight="bold" fill="#111">(4e-37)</text>
<text x="374.02" y="53.58" font-size="1.95" text-anchor="middle" font-weight="bold" fill="#111">-0.66</text>
<text x="374.02" y="55.68" font-size="1.95" text-anchor="middle" font-weight="bold" fill="#111">(4e-37)</text>
<rect x="329.2" y="57.40" width="5.40" height="7.75" fill="#adff2f"/>
<rect x="335.1" y="57.40" width="26.25" height="7.75" fill="#faeeea"/>
<rect x="361.05" y="57.40" width="25.95" height="7.75" fill="#eef3fa"/>
<text x="328.2" y="61.93" font-size="2.7" text-anchor="end" font-weight="bold" fill="#333">MEgreenyellow</text>
<text x="348.08" y="60.73" font-size="1.95" text-anchor="middle" font-weight="bold" fill="#111">0.05</text>
<text x="348.08" y="62.83" font-size="1.95" text-anchor="middle" font-weight="bold" fill="#111">(0.4)</text>
<text x="374.02" y="60.73" font-size="1.95" text-anchor="middle" font-weight="bold" fill="#111">-0.05</text>
<text x="374.02" y="62.83" font-size="1.95" text-anchor="middle" font-weight="bold" fill="#111">(0.4)</text>
<rect x="329.2" y="64.55" width="5.40" height="7.75" fill="#ffc0cb"/>
<rect x="335.1" y="64.55" width="26.25" height="7.75" fill="#fbeeea"/>
<rect x="361.05" y="64.55" width="25.95" height="7.75" fill="#f2f6fb"/>
<text x="328.2" y="69.08" font-size="2.7" text-anchor="end" font-weight="bold" fill="#333">MEpink</text>
<text x="348.08" y="67.88" font-size="1.95" text-anchor="middle" font-weight="bold" fill="#111">0.03</text>
<text x="348.08" y="69.98" font-size="1.95" text-anchor="middle" font-weight="bold" fill="#111">(0.6)</text>
<text x="374.02" y="67.88" font-size="1.95" text-anchor="middle" font-weight="bold" fill="#111">-0.03</text>
<text x="374.02" y="69.98" font-size="1.95" text-anchor="middle" font-weight="bold" fill="#111">(0.6)</text>
<rect x="329.2" y="71.70" width="5.40" height="7.75" fill="#ffff00"/>
<rect x="335.1" y="71.70" width="26.25" height="7.75" fill="#f1f5fb"/>
<rect x="361.05" y="71.70" width="25.95" height="7.75" fill="#f8dcd4"/>
<text x="328.2" y="76.23" font-size="2.7" text-anchor="end" font-weight="bold" fill="#333">MEyellow</text>
<text x="348.08" y="75.03" font-size="1.95" text-anchor="middle" font-weight="bold" fill="#111">-0.06</text>
<text x="348.08" y="77.12" font-size="1.95" text-anchor="middle" font-weight="bold" fill="#111">(0.3)</text>
<text x="374.02" y="75.03" font-size="1.95" text-anchor="middle" font-weight="bold" fill="#111">0.06</text>
<text x="374.02" y="77.12" font-size="1.95" text-anchor="middle" font-weight="bold" fill="#111">(0.3)</text>
<rect x="329.2" y="78.85" width="5.40" height="7.75" fill="#00ff00"/>
<rect x="335.1" y="78.85" width="26.25" height="7.75" fill="#a8cbee"/>
<rect x="361.05" y="78.85" width="25.95" height="7.75" fill="#f0a090"/>
<text x="328.2" y="83.38" font-size="2.7" text-anchor="end" font-weight="bold" fill="#333">MEgreen</text>
<text x="348.08" y="82.18" font-size="1.95" text-anchor="middle" font-weight="bold" fill="#111">-0.3</text>
<text x="348.08" y="84.28" font-size="1.95" text-anchor="middle" font-weight="bold" fill="#111">(4e-07)</text>
<text x="374.02" y="82.18" font-size="1.95" text-anchor="middle" font-weight="bold" fill="#111">0.3</text>
<text x="374.02" y="84.28" font-size="1.95" text-anchor="middle" font-weight="bold" fill="#111">(4e-07)</text>
<rect x="329.2" y="86.00" width="5.40" height="7.15" fill="#d2b48c"/>
<rect x="335.1" y="86.00" width="26.25" height="7.15" fill="#fbfbfb"/>
<rect x="361.05" y="86.00" width="25.95" height="7.15" fill="#fbfbfb"/>
<text x="328.2" y="90.53" font-size="2.7" text-anchor="end" font-weight="bold" fill="#333">MEtan</text>
<text x="348.08" y="89.33" font-size="1.95" text-anchor="middle" font-weight="bold" fill="#111">0.01</text>
<text x="348.08" y="91.42" font-size="1.95" text-anchor="middle" font-weight="bold" fill="#111">(0.9)</text>
<text x="374.02" y="89.33" font-size="1.95" text-anchor="middle" font-weight="bold" fill="#111">-0.01</text>
<text x="374.02" y="91.42" font-size="1.95" text-anchor="middle" font-weight="bold" fill="#111">(0.9)</text>
<rect x="335.1" y="14.5" width="51.89999999999998" height="78.65" fill="none" stroke="#aaa" stroke-width="0.3"/>
<text x="337.5" y="10.45" font-size="3.56" font-weight="bold" fill="#000" stroke="#000" stroke-width="0.1" textLength="56" lengthAdjust="spacingAndGlyphs">Module-trait relationships(TCGA)</text>
<rect x="388.5" y="18" width="3.1999999999999886" height="70.8" fill="url(#cbar)"/>
<path d="M391.7 19.5h0.7" stroke="#333" stroke-width="0.25"/>
<text x="393.0" y="20.4" font-size="2.5" text-anchor="start" font-weight="bold" fill="#333">1</text>
<path d="M391.7 36.8h0.7" stroke="#333" stroke-width="0.25"/>
<text x="393.0" y="37.699999999999996" font-size="2.5" text-anchor="start" font-weight="bold" fill="#333">0.5</text>
<path d="M391.7 53.8h0.7" stroke="#333" stroke-width="0.25"/>
<text x="393.0" y="54.699999999999996" font-size="2.5" text-anchor="start" font-weight="bold" fill="#333">0</text>
<path d="M391.7 71h0.7" stroke="#333" stroke-width="0.25"/>
<text x="393.0" y="71.9" font-size="2.5" text-anchor="start" font-weight="bold" fill="#333">-0.5</text>
<path d="M391.7 88h0.7" stroke="#333" stroke-width="0.25"/>
<text x="393.0" y="88.9" font-size="2.5" text-anchor="start" font-weight="bold" fill="#333">-1</text>
<text x="349.08" y="96.2" font-size="2.75" text-anchor="end" font-weight="bold" fill="#333" transform="rotate(-45 349.08 96.2)">Normal</text>
<text x="375.02" y="96.2" font-size="2.75" text-anchor="end" font-weight="bold" fill="#333" transform="rotate(-45 375.02 96.2)">Tumor</text>
<rect x="331.8" y="146.60" width="4.80" height="5.75" fill="#000000"/>
<rect x="337.1" y="146.60" width="25.50" height="5.75" fill="#b8d4f0"/>
<rect x="362.30" y="146.60" width="25.20" height="5.75" fill="#f4b8a8"/>
<text x="330.8" y="150.12" font-size="2.7" text-anchor="end" font-weight="bold" fill="#333">MEblack</text>
<text x="349.7" y="148.97" font-size="1.55" text-anchor="middle" font-weight="bold" fill="#111">-0.24</text>
<text x="349.7" y="150.67" font-size="1.55" text-anchor="middle" font-weight="bold" fill="#111">(0.002)</text>
<text x="374.9" y="148.97" font-size="1.55" text-anchor="middle" font-weight="bold" fill="#111">0.24</text>
<text x="374.9" y="150.67" font-size="1.55" text-anchor="middle" font-weight="bold" fill="#111">(0.002)</text>
<rect x="331.8" y="151.75" width="4.80" height="5.75" fill="#a020f0"/>
<rect x="337.1" y="151.75" width="25.50" height="5.75" fill="#eaf1f9"/>
<rect x="362.30" y="151.75" width="25.20" height="5.75" fill="#fae8e2"/>
<text x="330.8" y="155.27" font-size="2.7" text-anchor="end" font-weight="bold" fill="#333">MEpurple</text>
<text x="349.7" y="154.12" font-size="1.55" text-anchor="middle" font-weight="bold" fill="#111">-0.07</text>
<text x="349.7" y="155.82" font-size="1.55" text-anchor="middle" font-weight="bold" fill="#111">(0.4)</text>
<text x="374.9" y="154.12" font-size="1.55" text-anchor="middle" font-weight="bold" fill="#111">0.07</text>
<text x="374.9" y="155.82" font-size="1.55" text-anchor="middle" font-weight="bold" fill="#111">(0.4)</text>
<rect x="331.8" y="156.90" width="4.80" height="5.75" fill="#d2b48c"/>
<rect x="337.1" y="156.90" width="25.50" height="5.75" fill="#f8f8fa"/>
<rect x="362.30" y="156.90" width="25.20" height="5.75" fill="#eef3fa"/>
<text x="330.8" y="160.42" font-size="2.7" text-anchor="end" font-weight="bold" fill="#333">MEtan</text>
<text x="349.7" y="159.28" font-size="1.55" text-anchor="middle" font-weight="bold" fill="#111">0.02</text>
<text x="349.7" y="160.97" font-size="1.55" text-anchor="middle" font-weight="bold" fill="#111">(0.8)</text>
<text x="374.9" y="159.28" font-size="1.55" text-anchor="middle" font-weight="bold" fill="#111">-0.02</text>
<text x="374.9" y="160.97" font-size="1.55" text-anchor="middle" font-weight="bold" fill="#111">(0.8)</text>
<rect x="331.8" y="162.05" width="4.80" height="5.75" fill="#00ff00"/>
<rect x="337.1" y="162.05" width="25.50" height="5.75" fill="#c6dcf2"/>
<rect x="362.30" y="162.05" width="25.20" height="5.75" fill="#f6d0c4"/>
<text x="330.8" y="165.57" font-size="2.7" text-anchor="end" font-weight="bold" fill="#333">MEgreen</text>
<text x="349.7" y="164.42" font-size="1.55" text-anchor="middle" font-weight="bold" fill="#111">-0.18</text>
<text x="349.7" y="166.12" font-size="1.55" text-anchor="middle" font-weight="bold" fill="#111">(0.02)</text>
<text x="374.9" y="164.42" font-size="1.55" text-anchor="middle" font-weight="bold" fill="#111">0.18</text>
<text x="374.9" y="166.12" font-size="1.55" text-anchor="middle" font-weight="bold" fill="#111">(0.02)</text>
<rect x="331.8" y="167.20" width="4.80" height="5.75" fill="#0000ff"/>
<rect x="337.1" y="167.20" width="25.50" height="5.75" fill="#fafafa"/>
<rect x="362.30" y="167.20" width="25.20" height="5.75" fill="#fafafa"/>
<text x="330.8" y="170.72" font-size="2.7" text-anchor="end" font-weight="bold" fill="#333">MEblue</text>
<text x="349.7" y="169.57" font-size="1.55" text-anchor="middle" font-weight="bold" fill="#111">0</text>
<text x="349.7" y="171.27" font-size="1.55" text-anchor="middle" font-weight="bold" fill="#111">(1)</text>
<text x="374.9" y="169.57" font-size="1.55" text-anchor="middle" font-weight="bold" fill="#111">0</text>
<text x="374.9" y="171.27" font-size="1.55" text-anchor="middle" font-weight="bold" fill="#111">(1)</text>
<rect x="331.8" y="172.35" width="4.80" height="5.75" fill="#ff0000"/>
<rect x="337.1" y="172.35" width="25.50" height="5.75" fill="#a8c8ec"/>
<rect x="362.30" y="172.35" width="25.20" height="5.75" fill="#f2a894"/>
<text x="330.8" y="175.87" font-size="2.7" text-anchor="end" font-weight="bold" fill="#333">MEred</text>
<text x="349.7" y="174.72" font-size="1.55" text-anchor="middle" font-weight="bold" fill="#111">-0.3</text>
<text x="349.7" y="176.42" font-size="1.55" text-anchor="middle" font-weight="bold" fill="#111">(1e-04)</text>
<text x="374.9" y="174.72" font-size="1.55" text-anchor="middle" font-weight="bold" fill="#111">0.3</text>
<text x="374.9" y="176.42" font-size="1.55" text-anchor="middle" font-weight="bold" fill="#111">(1e-04)</text>
<rect x="331.8" y="177.50" width="4.80" height="5.75" fill="#a52a2a"/>
<rect x="337.1" y="177.50" width="25.50" height="5.75" fill="#aacaec"/>
<rect x="362.30" y="177.50" width="25.20" height="5.75" fill="#f2aa96"/>
<text x="330.8" y="181.02" font-size="2.7" text-anchor="end" font-weight="bold" fill="#333">MEbrown</text>
<text x="349.7" y="179.88" font-size="1.55" text-anchor="middle" font-weight="bold" fill="#111">-0.29</text>
<text x="349.7" y="181.57" font-size="1.55" text-anchor="middle" font-weight="bold" fill="#111">(2e-04)</text>
<text x="374.9" y="179.88" font-size="1.55" text-anchor="middle" font-weight="bold" fill="#111">0.29</text>
<text x="374.9" y="181.57" font-size="1.55" text-anchor="middle" font-weight="bold" fill="#111">(2e-04)</text>
<rect x="331.8" y="182.65" width="4.80" height="5.75" fill="#fa8072"/>
<rect x="337.1" y="182.65" width="25.50" height="5.75" fill="#e4edf8"/>
<rect x="362.30" y="182.65" width="25.20" height="5.75" fill="#f8e0d8"/>
<text x="330.8" y="186.17" font-size="2.7" text-anchor="end" font-weight="bold" fill="#333">MEsalmon</text>
<text x="349.7" y="185.03" font-size="1.55" text-anchor="middle" font-weight="bold" fill="#111">-0.09</text>
<text x="349.7" y="186.72" font-size="1.55" text-anchor="middle" font-weight="bold" fill="#111">(0.3)</text>
<text x="374.9" y="185.03" font-size="1.55" text-anchor="middle" font-weight="bold" fill="#111">0.09</text>
<text x="374.9" y="186.72" font-size="1.55" text-anchor="middle" font-weight="bold" fill="#111">(0.3)</text>
<rect x="331.8" y="187.80" width="4.80" height="5.75" fill="#00ffff"/>
<rect x="337.1" y="187.80" width="25.50" height="5.75" fill="#c8ddf2"/>
<rect x="362.30" y="187.80" width="25.20" height="5.75" fill="#f6d4c8"/>
<text x="330.8" y="191.32" font-size="2.7" text-anchor="end" font-weight="bold" fill="#333">MEcyan</text>
<text x="349.7" y="190.18" font-size="1.55" text-anchor="middle" font-weight="bold" fill="#111">-0.17</text>
<text x="349.7" y="191.88" font-size="1.55" text-anchor="middle" font-weight="bold" fill="#111">(0.03)</text>
<text x="374.9" y="190.18" font-size="1.55" text-anchor="middle" font-weight="bold" fill="#111">0.17</text>
<text x="374.9" y="191.88" font-size="1.55" text-anchor="middle" font-weight="bold" fill="#111">(0.03)</text>
<rect x="331.8" y="192.95" width="4.80" height="5.75" fill="#ff00ff"/>
<rect x="337.1" y="192.95" width="25.50" height="5.75" fill="#f8d8ce"/>
<rect x="362.30" y="192.95" width="25.20" height="5.75" fill="#d4e4f4"/>
<text x="330.8" y="196.47" font-size="2.7" text-anchor="end" font-weight="bold" fill="#333">MEmagenta</text>
<text x="349.7" y="195.32" font-size="1.55" text-anchor="middle" font-weight="bold" fill="#111">0.15</text>
<text x="349.7" y="197.02" font-size="1.55" text-anchor="middle" font-weight="bold" fill="#111">(0.06)</text>
<text x="374.9" y="195.32" font-size="1.55" text-anchor="middle" font-weight="bold" fill="#111">-0.15</text>
<text x="374.9" y="197.02" font-size="1.55" text-anchor="middle" font-weight="bold" fill="#111">(0.06)</text>
<rect x="331.8" y="198.10" width="4.80" height="5.75" fill="#ffc0cb"/>
<rect x="337.1" y="198.10" width="25.50" height="5.75" fill="#f4f7fb"/>
<rect x="362.30" y="198.10" width="25.20" height="5.75" fill="#faf0ec"/>
<text x="330.8" y="201.62" font-size="2.7" text-anchor="end" font-weight="bold" fill="#333">MEpink</text>
<text x="349.7" y="200.47" font-size="1.55" text-anchor="middle" font-weight="bold" fill="#111">-0.03</text>
<text x="349.7" y="202.17" font-size="1.55" text-anchor="middle" font-weight="bold" fill="#111">(0.7)</text>
<text x="374.9" y="200.47" font-size="1.55" text-anchor="middle" font-weight="bold" fill="#111">0.03</text>
<text x="374.9" y="202.17" font-size="1.55" text-anchor="middle" font-weight="bold" fill="#111">(0.7)</text>
<rect x="331.8" y="203.25" width="4.80" height="5.75" fill="#ffff00"/>
<rect x="337.1" y="203.25" width="25.50" height="5.75" fill="#f7f2f0"/>
<rect x="362.30" y="203.25" width="25.20" height="5.75" fill="#f2f6fb"/>
<text x="330.8" y="206.77" font-size="2.7" text-anchor="end" font-weight="bold" fill="#333">MEyellow</text>
<text x="349.7" y="205.62" font-size="1.55" text-anchor="middle" font-weight="bold" fill="#111">0.02</text>
<text x="349.7" y="207.32" font-size="1.55" text-anchor="middle" font-weight="bold" fill="#111">(0.8)</text>
<text x="374.9" y="205.62" font-size="1.55" text-anchor="middle" font-weight="bold" fill="#111">-0.02</text>
<text x="374.9" y="207.32" font-size="1.55" text-anchor="middle" font-weight="bold" fill="#111">(0.8)</text>
<rect x="331.8" y="208.40" width="4.80" height="5.75" fill="#adff2f"/>
<rect x="337.1" y="208.40" width="25.50" height="5.75" fill="#fafafa"/>
<rect x="362.30" y="208.40" width="25.20" height="5.75" fill="#fafafa"/>
<text x="330.8" y="211.92" font-size="2.7" text-anchor="end" font-weight="bold" fill="#333">MEgreenyellow</text>
<text x="349.7" y="210.78" font-size="1.55" text-anchor="middle" font-weight="bold" fill="#111">0.01</text>
<text x="349.7" y="212.47" font-size="1.55" text-anchor="middle" font-weight="bold" fill="#111">(0.9)</text>
<text x="374.9" y="210.78" font-size="1.55" text-anchor="middle" font-weight="bold" fill="#111">-0.01</text>
<text x="374.9" y="212.47" font-size="1.55" text-anchor="middle" font-weight="bold" fill="#111">(0.9)</text>
<rect x="331.8" y="213.55" width="4.80" height="5.75" fill="#40e0d0"/>
<rect x="337.1" y="213.55" width="25.50" height="5.75" fill="#f4583a"/>
<rect x="362.30" y="213.55" width="25.20" height="5.75" fill="#3a8cec"/>
<text x="330.8" y="217.07" font-size="2.7" text-anchor="end" font-weight="bold" fill="#333">MEturquoise</text>
<text x="349.7" y="215.93" font-size="1.55" text-anchor="middle" font-weight="bold" fill="#111">0.72</text>
<text x="349.7" y="217.62" font-size="1.55" text-anchor="middle" font-weight="bold" fill="#111">(2e-26)</text>
<text x="374.9" y="215.93" font-size="1.55" text-anchor="middle" font-weight="bold" fill="#111">-0.72</text>
<text x="374.9" y="217.62" font-size="1.55" text-anchor="middle" font-weight="bold" fill="#111">(2e-26)</text>
<rect x="331.8" y="218.70" width="4.80" height="5.15" fill="#bebebe"/>
<rect x="337.1" y="218.70" width="25.50" height="5.15" fill="#fafafa"/>
<rect x="362.30" y="218.70" width="25.20" height="5.15" fill="#f6f8fb"/>
<text x="330.8" y="222.22" font-size="2.7" text-anchor="end" font-weight="bold" fill="#333">MEgrey</text>
<text x="349.7" y="221.07" font-size="1.55" text-anchor="middle" font-weight="bold" fill="#111">0.01</text>
<text x="349.7" y="222.77" font-size="1.55" text-anchor="middle" font-weight="bold" fill="#111">(0.9)</text>
<text x="374.9" y="221.07" font-size="1.55" text-anchor="middle" font-weight="bold" fill="#111">-0.01</text>
<text x="374.9" y="222.77" font-size="1.55" text-anchor="middle" font-weight="bold" fill="#111">(0.9)</text>
<rect x="337.1" y="146.6" width="50.39999999999998" height="77.25" fill="none" stroke="#aaa" stroke-width="0.3"/>
<text x="341" y="142.7" font-size="3.43" font-weight="bold" fill="#000" stroke="#000" stroke-width="0.1" textLength="51.8" lengthAdjust="spacingAndGlyphs">Module-trait relationships(GEO)</text>
<rect x="389" y="150.2" width="3.1999999999999886" height="68.20000000000002" fill="url(#cbar)"/>
<path d="M392.2 150.8h0.7" stroke="#333" stroke-width="0.25"/>
<text x="393.5" y="151.70000000000002" font-size="2.5" text-anchor="start" font-weight="bold" fill="#333">1</text>
<path d="M392.2 167.6h0.7" stroke="#333" stroke-width="0.25"/>
<text x="393.5" y="168.5" font-size="2.5" text-anchor="start" font-weight="bold" fill="#333">0.5</text>
<path d="M392.2 184.5h0.7" stroke="#333" stroke-width="0.25"/>
<text x="393.5" y="185.4" font-size="2.5" text-anchor="start" font-weight="bold" fill="#333">0</text>
<path d="M392.2 201.6h0.7" stroke="#333" stroke-width="0.25"/>
<text x="393.5" y="202.5" font-size="2.5" text-anchor="start" font-weight="bold" fill="#333">-0.5</text>
<path d="M392.2 218.2h0.7" stroke="#333" stroke-width="0.25"/>
<text x="393.5" y="219.1" font-size="2.5" text-anchor="start" font-weight="bold" fill="#333">-1</text>
<text x="350.7" y="226.6" font-size="2.75" text-anchor="end" font-weight="bold" fill="#333" transform="rotate(-45 350.7 226.6)">Normal</text>
<text x="375.9" y="226.6" font-size="2.75" text-anchor="end" font-weight="bold" fill="#333" transform="rotate(-45 375.9 226.6)">Tumor</text>
<g transform="translate(8.4,347.3) scale(104.7,-98.0)"><ellipse cx="0.65" cy="0.47" rx="0.35" ry="0.2" transform="rotate(45 0.65 0.47)" fill="#7fff00" fill-opacity="0.5"/><ellipse cx="0.35" cy="0.47" rx="0.35" ry="0.2" transform="rotate(-45 0.35 0.47)" fill="#ff0000" fill-opacity="0.5"/><ellipse cx="0.5" cy="0.57" rx="0.35" ry="0.2" transform="rotate(45 0.5 0.57)" fill="#9105f5" fill-opacity="0.5"/><ellipse cx="0.5" cy="0.57" rx="0.35" ry="0.2" transform="rotate(-45 0.5 0.57)" fill="#00e1e1" fill-opacity="0.5"/><ellipse cx="0.65" cy="0.47" rx="0.35" ry="0.2" transform="rotate(45 0.65 0.47)" fill="none" stroke="#111" stroke-opacity="0.9" stroke-width="0.0062" vector-effect="none"/><ellipse cx="0.35" cy="0.47" rx="0.35" ry="0.2" transform="rotate(-45 0.35 0.47)" fill="none" stroke="#111" stroke-opacity="0.9" stroke-width="0.0062" vector-effect="none"/><ellipse cx="0.5" cy="0.57" rx="0.35" ry="0.2" transform="rotate(45 0.5 0.57)" fill="none" stroke="#111" stroke-opacity="0.9" stroke-width="0.0062" vector-effect="none"/><ellipse cx="0.5" cy="0.57" rx="0.35" ry="0.2" transform="rotate(-45 0.5 0.57)" fill="none" stroke="#111" stroke-opacity="0.9" stroke-width="0.0062" vector-effect="none"/></g>
<text x="21.8" y="268.4" font-size="2.5" text-anchor="middle" font-weight="bold" fill="#111">GEO_diff</text>
<text x="45.3" y="259.9" font-size="2.5" text-anchor="middle" font-weight="bold" fill="#111">TCGA_tan</text>
<text x="76.3" y="259.9" font-size="2.5" text-anchor="middle" font-weight="bold" fill="#111">TCGA_diff</text>
<text x="98.8" y="268.4" font-size="2.5" text-anchor="middle" font-weight="bold" fill="#111">GEO_turquoise</text>
<text x="27.5" y="290.25" font-size="2.1" text-anchor="middle" font-weight="bold" fill="#222" stroke="#333" stroke-width="0.1">1611</text>
<text x="45.6" y="271.45" font-size="2.1" text-anchor="middle" font-weight="bold" fill="#222" stroke="#333" stroke-width="0.1">1065</text>
<text x="74.5" y="271.45" font-size="2.1" text-anchor="middle" font-weight="bold" fill="#222" stroke="#333" stroke-width="0.1">1025</text>
<text x="95" y="290.25" font-size="2.1" text-anchor="middle" font-weight="bold" fill="#222" stroke="#333" stroke-width="0.1">1156</text>
<text x="41.2" y="281.55" font-size="2.1" text-anchor="middle" font-weight="bold" fill="#222" stroke="#333" stroke-width="0.1">96</text>
<text x="60.5" y="279.75" font-size="2.1" text-anchor="middle" font-weight="bold" fill="#222" stroke="#333" stroke-width="0.1">149</text>
<text x="79.8" y="281.55" font-size="2.1" text-anchor="middle" font-weight="bold" fill="#222" stroke="#333" stroke-width="0.1">70</text>
<text x="49.5" y="290.75" font-size="2.1" text-anchor="middle" font-weight="bold" fill="#222" stroke="#333" stroke-width="0.1">55</text>
<text x="71.5" y="290.75" font-size="2.1" text-anchor="middle" font-weight="bold" fill="#222" stroke="#333" stroke-width="0.1">45</text>
<text x="60.5" y="298.75" font-size="2.1" text-anchor="middle" font-weight="bold" fill="#222" stroke="#333" stroke-width="0.1">59</text>
<text x="44.5" y="302.75" font-size="2.1" text-anchor="middle" font-weight="bold" fill="#222" stroke="#333" stroke-width="0.1">168</text>
<text x="76.5" y="302.75" font-size="2.1" text-anchor="middle" font-weight="bold" fill="#222" stroke="#333" stroke-width="0.1">118</text>
<text x="51.2" y="310.25" font-size="2.1" text-anchor="middle" font-weight="bold" fill="#222" stroke="#333" stroke-width="0.1">12</text>
<text x="69.8" y="310.25" font-size="2.1" text-anchor="middle" font-weight="bold" fill="#222" stroke="#333" stroke-width="0.1">27</text>
<text x="60.5" y="319.25" font-size="2.1" text-anchor="middle" font-weight="bold" fill="#222" stroke="#333" stroke-width="0.1">590</text>
<defs><linearGradient id="padj" x1="0" y1="0" x2="0" y2="1"><stop offset="0" stop-color="#e0003c"/><stop offset="0.5" stop-color="#b400a8"/><stop offset="1" stop-color="#5000e0"/></linearGradient></defs>
<path d="M220.7 256.3V327.4" stroke="#ebebeb" stroke-width="0.35"/>
<path d="M228.35 256.3V327.4" stroke="#f5f5f5" stroke-width="0.25"/>
<path d="M236 256.3V327.4" stroke="#ebebeb" stroke-width="0.35"/>
<path d="M243.6 256.3V327.4" stroke="#f5f5f5" stroke-width="0.25"/>
<path d="M251.2 256.3V327.4" stroke="#ebebeb" stroke-width="0.35"/>
<path d="M258.9 256.3V327.4" stroke="#f5f5f5" stroke-width="0.25"/>
<path d="M266.6 256.3V327.4" stroke="#ebebeb" stroke-width="0.35"/>
<rect x="220.6" y="257.20" width="51.30" height="1.85" fill="#fe0204"/>
<text x="217.8" y="258.85" font-size="2.0" text-anchor="end" fill="#333" textLength="31.6" lengthAdjust="spacingAndGlyphs">process transport membrane pathway ce</text>
<rect x="220.6" y="259.21" width="49.80" height="1.85" fill="#ff0000"/>
<text x="217.8" y="260.86" font-size="2.0" text-anchor="end" fill="#333" textLength="21.8" lengthAdjust="spacingAndGlyphs">cell component division a</text>
<rect x="220.6" y="261.22" width="50.40" height="1.85" fill="#ff0000"/>
<text x="217.8" y="262.87" font-size="2.0" text-anchor="end" fill="#333" textLength="29.6" lengthAdjust="spacingAndGlyphs">negative immune response activity</text>
<rect x="220.6" y="263.23" width="49.00" height="1.85" fill="#fe0204"/>
<text x="217.8" y="264.88" font-size="2.0" text-anchor="end" fill="#333" textLength="24.5" lengthAdjust="spacingAndGlyphs">cell nuclear development com</text>
<rect x="220.6" y="265.24" width="48.30" height="1.85" fill="#ff0000"/>
<text x="217.8" y="266.89" font-size="2.0" text-anchor="end" fill="#333" textLength="12.8" lengthAdjust="spacingAndGlyphs">localization ex</text>
<rect x="220.6" y="267.25" width="23.90" height="1.85" fill="#ff0000"/>
<text x="217.8" y="268.90" font-size="2.0" text-anchor="end" fill="#333" textLength="19.9" lengthAdjust="spacingAndGlyphs">binding response transp</text>
<rect x="220.6" y="269.26" width="28.80" height="1.85" fill="#fe0204"/>
<text x="217.8" y="270.91" font-size="2.0" text-anchor="end" fill="#333" textLength="21.8" lengthAdjust="spacingAndGlyphs">adhesion activity activit</text>
<rect x="220.6" y="271.27" width="26.40" height="1.85" fill="#ff0000"/>
<text x="217.8" y="272.92" font-size="2.0" text-anchor="end" fill="#333" textLength="21.8" lengthAdjust="spacingAndGlyphs">cycle cellular activity p</text>
<rect x="220.6" y="273.28" width="25.10" height="1.85" fill="#ff0000"/>
<text x="217.8" y="274.93" font-size="2.0" text-anchor="end" fill="#333" textLength="24.5" lengthAdjust="spacingAndGlyphs">process metabolic membrane t</text>
<rect x="220.6" y="275.29" width="23.60" height="1.85" fill="#fe0204"/>
<text x="217.8" y="276.94" font-size="2.0" text-anchor="end" fill="#333" textLength="24.5" lengthAdjust="spacingAndGlyphs">pathway phase metabolic comp</text>
<rect x="220.6" y="277.30" width="40.80" height="1.85" fill="#ff0000"/>
<text x="217.8" y="278.95" font-size="2.0" text-anchor="end" fill="#333" textLength="20.8" lengthAdjust="spacingAndGlyphs">cycle phase pathway acti</text>
<rect x="220.6" y="280.50" width="53.10" height="1.85" fill="#fe0204"/>
<text x="217.8" y="282.15" font-size="2.0" text-anchor="end" fill="#333" textLength="16.8" lengthAdjust="spacingAndGlyphs">protein activity ex</text>
<rect x="220.6" y="282.51" width="19.10" height="1.85" fill="#ff0000"/>
<text x="217.8" y="284.16" font-size="2.0" text-anchor="end" fill="#333" textLength="18.0" lengthAdjust="spacingAndGlyphs">cellular stimulus sti</text>
<rect x="220.6" y="284.52" width="34.80" height="1.85" fill="#ff0000"/>
<text x="217.8" y="286.17" font-size="2.0" text-anchor="end" fill="#333" textLength="27.8" lengthAdjust="spacingAndGlyphs">binding to negative pathway deve</text>
<rect x="220.6" y="286.53" width="30.40" height="1.85" fill="#fe0204"/>
<text x="217.8" y="288.18" font-size="2.0" text-anchor="end" fill="#333" textLength="21.8" lengthAdjust="spacingAndGlyphs">signaling metabolic extra</text>
<rect x="220.6" y="288.54" width="30.40" height="1.85" fill="#ff0000"/>
<text x="217.8" y="290.19" font-size="2.0" text-anchor="end" fill="#333" textLength="17.3" lengthAdjust="spacingAndGlyphs">transition complex i</text>
<rect x="220.6" y="290.55" width="16.90" height="1.85" fill="#ff0000"/>
<text x="217.8" y="292.20" font-size="2.0" text-anchor="end" fill="#333" textLength="19.9" lengthAdjust="spacingAndGlyphs">localization cell matri</text>
<rect x="220.6" y="292.56" width="30.40" height="1.85" fill="#fe0204"/>
<text x="217.8" y="294.21" font-size="2.0" text-anchor="end" fill="#333" textLength="18.8" lengthAdjust="spacingAndGlyphs">negative cellular to c</text>
<rect x="220.6" y="294.57" width="16.90" height="1.85" fill="#ff0000"/>
<text x="217.8" y="296.22" font-size="2.0" text-anchor="end" fill="#333" textLength="17.8" lengthAdjust="spacingAndGlyphs">transport metabolic</text>
<rect x="220.6" y="296.58" width="13.90" height="1.85" fill="#ff0000"/>
<text x="217.8" y="298.23" font-size="2.0" text-anchor="end" fill="#333" textLength="18.8" lengthAdjust="spacingAndGlyphs">component complex comp</text>
<rect x="220.6" y="298.59" width="13.10" height="1.85" fill="#fe0204"/>
<text x="217.8" y="300.24" font-size="2.0" text-anchor="end" fill="#333" textLength="17.8" lengthAdjust="spacingAndGlyphs">extracellular proces</text>
<rect x="220.6" y="300.60" width="27.00" height="1.85" fill="#ff0000"/>
<text x="217.8" y="302.25" font-size="2.0" text-anchor="end" fill="#333" textLength="10.1" lengthAdjust="spacingAndGlyphs">phase stimu</text>
<rect x="220.6" y="304.70" width="28.80" height="1.85" fill="#ff0000"/>
<text x="217.8" y="306.35" font-size="2.0" text-anchor="end" fill="#333" textLength="15.8" lengthAdjust="spacingAndGlyphs">to activity adhesi</text>
<rect x="220.6" y="306.71" width="24.40" height="1.85" fill="#ff0000"/>
<text x="217.8" y="308.36" font-size="2.0" text-anchor="end" fill="#333" textLength="17.8" lengthAdjust="spacingAndGlyphs">receptor response pa</text>
<rect x="220.6" y="308.72" width="22.80" height="1.85" fill="#fe0306"/>
<text x="217.8" y="310.37" font-size="2.0" text-anchor="end" fill="#333" textLength="28.6" lengthAdjust="spacingAndGlyphs">activity matrix localization cell</text>
<rect x="220.6" y="310.73" width="27.00" height="1.85" fill="#fd0508"/>
<text x="217.8" y="312.38" font-size="2.0" text-anchor="end" fill="#333" textLength="17.8" lengthAdjust="spacingAndGlyphs">protein of activity</text>
<rect x="220.6" y="312.74" width="18.10" height="1.85" fill="#f0103a"/>
<text x="217.8" y="314.39" font-size="2.0" text-anchor="end" fill="#333" textLength="17.8" lengthAdjust="spacingAndGlyphs">chromosome regulatio</text>
<rect x="220.6" y="314.75" width="6.40" height="1.85" fill="#d0209a"/>
<text x="217.8" y="316.40" font-size="2.0" text-anchor="end" fill="#333" textLength="78.5" lengthAdjust="spacingAndGlyphs">division immune adhesion adhesion nuclear localization chromosome to localization to of prot</text>
<rect x="220.6" y="316.76" width="14.60" height="1.85" fill="#b020c0"/>
<text x="217.8" y="318.41" font-size="2.0" text-anchor="end" fill="#333" textLength="17.8" lengthAdjust="spacingAndGlyphs">chromosome protein s</text>
<rect x="220.6" y="318.77" width="7.10" height="1.85" fill="#8a22d8"/>
<text x="217.8" y="320.42" font-size="2.0" text-anchor="end" fill="#333" textLength="15.8" lengthAdjust="spacingAndGlyphs">complex transport</text>
<rect x="220.6" y="320.78" width="7.10" height="1.85" fill="#5a1af0"/>
<text x="217.8" y="322.43" font-size="2.0" text-anchor="end" fill="#333" textLength="18.8" lengthAdjust="spacingAndGlyphs">development organizati</text>
<rect x="220.6" y="322.79" width="27.00" height="1.85" fill="#2a10ff"/>
<text x="217.8" y="324.44" font-size="2.0" text-anchor="end" fill="#333" textLength="17.8" lengthAdjust="spacingAndGlyphs">nuclear positive act</text>
<rect x="220.6" y="324.80" width="10.10" height="1.85" fill="#0a00ff"/>
<text x="217.8" y="326.45" font-size="2.0" text-anchor="end" fill="#333" textLength="17.8" lengthAdjust="spacingAndGlyphs">positive transition</text>
<path d="M220.7 327.4v0.8" stroke="#555" stroke-width="0.3"/>
<text x="220.7" y="329.9" font-size="2.0" text-anchor="middle" font-weight="bold" fill="#444">0</text>
<path d="M236 327.4v0.8" stroke="#555" stroke-width="0.3"/>
<text x="236" y="329.9" font-size="2.0" text-anchor="middle" font-weight="bold" fill="#444">10</text>
<path d="M251.2 327.4v0.8" stroke="#555" stroke-width="0.3"/>
<text x="251.2" y="329.9" font-size="2.0" text-anchor="middle" font-weight="bold" fill="#444">20</text>
<path d="M266.6 327.4v0.8" stroke="#555" stroke-width="0.3"/>
<text x="266.6" y="329.9" font-size="2.0" text-anchor="middle" font-weight="bold" fill="#444">30</text>
<rect x="219.8" y="279.45" width="55.7" height="0.5" fill="#e8e8e8"/>
<rect x="219.8" y="303.55" width="55.7" height="0.5" fill="#e8e8e8"/>
<rect x="275.8" y="256.3" width="3.0" height="23.15" fill="#ebebeb"/>
<text x="277.25" y="267.88" font-size="2.0" text-anchor="middle" font-weight="bold" fill="#333" transform="rotate(90 277.25 267.88)">BP</text>
<rect x="275.8" y="279.95" width="3.0" height="23.60" fill="#ebebeb"/>
<text x="277.25" y="291.75" font-size="2.0" text-anchor="middle" font-weight="bold" fill="#333" transform="rotate(90 277.25 291.75)">CC</text>
<rect x="275.8" y="304.05" width="3.0" height="23.35" fill="#ebebeb"/>
<text x="277.25" y="315.73" font-size="2.0" text-anchor="middle" font-weight="bold" fill="#333" transform="rotate(90 277.25 315.73)">MF</text>
<text x="281.3" y="285.6" font-size="2.0" text-anchor="start" font-weight="normal" fill="#333">p.adjust</text>
<rect x="281.8" y="287" width="2.4" height="12.6" fill="url(#padj)"/>
<text x="285.9" y="289.6" font-size="1.7" text-anchor="start" font-weight="normal" fill="#444">0.01</text>
<text x="285.9" y="292.2" font-size="1.7" text-anchor="start" font-weight="normal" fill="#444">0.02</text>
<text x="285.9" y="294.7" font-size="1.7" text-anchor="start" font-weight="normal" fill="#444">0.03</text>
<text x="285.9" y="297.5" font-size="1.7" text-anchor="start" font-weight="normal" fill="#444">0.04</text>
<text x="285.9" y="300.0" font-size="1.7" text-anchor="start" font-weight="normal" fill="#444">0.05</text>
<path d="M344.3 256.3V327.4" stroke="#ebebeb" stroke-width="0.35"/>
<path d="M350.75 256.3V327.4" stroke="#f5f5f5" stroke-width="0.25"/>
<path d="M357.2 256.3V327.4" stroke="#ebebeb" stroke-width="0.35"/>
<path d="M363.7 256.3V327.4" stroke="#f5f5f5" stroke-width="0.25"/>
<path d="M370.2 256.3V327.4" stroke="#ebebeb" stroke-width="0.35"/>
<path d="M376.7 256.3V327.4" stroke="#f5f5f5" stroke-width="0.25"/>
<path d="M383.2 256.3V327.4" stroke="#ebebeb" stroke-width="0.35"/>
<rect x="344.2" y="256.70" width="43.30" height="2.2" fill="#ee0a14"/>
<text x="342.3" y="258.59" font-size="2.2" text-anchor="end" fill="#333" textLength="26.5" lengthAdjust="spacingAndGlyphs">signaling cell complex chromoso</text>
<rect x="344.2" y="259.03" width="41.40" height="2.2" fill="#ff0000"/>
<text x="342.3" y="260.93" font-size="2.2" text-anchor="end" fill="#333" textLength="27.8" lengthAdjust="spacingAndGlyphs">receptor binding development tra</text>
<rect x="344.2" y="261.37" width="41.90" height="2.2" fill="#ff0000"/>
<text x="342.3" y="263.26" font-size="2.2" text-anchor="end" fill="#333" textLength="22.9" lengthAdjust="spacingAndGlyphs">development to receptor co</text>
<rect x="344.2" y="263.70" width="41.40" height="2.2" fill="#ff0000"/>
<text x="342.3" y="265.59" font-size="2.2" text-anchor="end" fill="#333" textLength="25.2" lengthAdjust="spacingAndGlyphs">immune matrix matrix pathway</text>
<rect x="344.2" y="266.03" width="41.00" height="2.2" fill="#ff0000"/>
<text x="342.3" y="267.92" font-size="2.2" text-anchor="end" fill="#333" textLength="26.7" lengthAdjust="spacingAndGlyphs">transition protein regulation o</text>
<rect x="344.2" y="268.37" width="20.10" height="2.2" fill="#ff0000"/>
<text x="342.3" y="270.26" font-size="2.2" text-anchor="end" fill="#333" textLength="19.1" lengthAdjust="spacingAndGlyphs">signaling pathway nucl</text>
<rect x="344.2" y="270.70" width="23.90" height="2.2" fill="#ff0000"/>
<text x="342.3" y="272.59" font-size="2.2" text-anchor="end" fill="#333" textLength="22.1" lengthAdjust="spacingAndGlyphs">development nuclear signa</text>
<rect x="344.2" y="273.03" width="23.00" height="2.2" fill="#ff0000"/>
<text x="342.3" y="274.92" font-size="2.2" text-anchor="end" fill="#333" textLength="23.0" lengthAdjust="spacingAndGlyphs">matrix membrane kinase nucl</text>
<rect x="344.2" y="275.36" width="20.60" height="2.2" fill="#ff0000"/>
<text x="342.3" y="277.26" font-size="2.2" text-anchor="end" fill="#333" textLength="18.4" lengthAdjust="spacingAndGlyphs">to nuclear binding co</text>
<rect x="344.2" y="277.70" width="34.30" height="2.2" fill="#ff0000"/>
<text x="342.3" y="279.59" font-size="2.2" text-anchor="end" fill="#333" textLength="18.7" lengthAdjust="spacingAndGlyphs">extracellular signali</text>
<rect x="344.2" y="280.03" width="20.60" height="2.2" fill="#ff0000"/>
<text x="342.3" y="281.92" font-size="2.2" text-anchor="end" fill="#333" textLength="31.0" lengthAdjust="spacingAndGlyphs">regulation binding positive organiza</text>
<rect x="344.2" y="282.36" width="35.80" height="2.2" fill="#ff0000"/>
<text x="342.3" y="284.25" font-size="2.2" text-anchor="end" fill="#333" textLength="22.3" lengthAdjust="spacingAndGlyphs">stimulus localization stim</text>
<rect x="344.2" y="284.70" width="18.20" height="2.2" fill="#ff0000"/>
<text x="342.3" y="286.59" font-size="2.2" text-anchor="end" fill="#333" textLength="28.7" lengthAdjust="spacingAndGlyphs">transport regulation cellular tra</text>
<rect x="344.2" y="287.03" width="16.80" height="2.2" fill="#ff0000"/>
<text x="342.3" y="288.92" font-size="2.2" text-anchor="end" fill="#333" textLength="27.5" lengthAdjust="spacingAndGlyphs">signaling regulation negative co</text>
<rect x="344.2" y="289.36" width="23.00" height="2.2" fill="#ff0000"/>
<text x="342.3" y="291.25" font-size="2.2" text-anchor="end" fill="#333" textLength="28.3" lengthAdjust="spacingAndGlyphs">adhesion to transport chromosome</text>
<rect x="344.2" y="291.69" width="16.80" height="2.2" fill="#ff0000"/>
<text x="342.3" y="293.59" font-size="2.2" text-anchor="end" fill="#333" textLength="25.2" lengthAdjust="spacingAndGlyphs">cell complex transport stimul</text>
<rect x="344.2" y="294.03" width="20.60" height="2.2" fill="#ff0000"/>
<text x="342.3" y="295.92" font-size="2.2" text-anchor="end" fill="#333" textLength="28.8" lengthAdjust="spacingAndGlyphs">pathway nuclear component transpo</text>
<rect x="344.2" y="296.36" width="13.00" height="2.2" fill="#ff0000"/>
<text x="342.3" y="298.25" font-size="2.2" text-anchor="end" fill="#333" textLength="30.8" lengthAdjust="spacingAndGlyphs">development complex regulation nucle</text>
<rect x="344.2" y="298.69" width="25.30" height="2.2" fill="#fc0210"/>
<text x="342.3" y="300.59" font-size="2.2" text-anchor="end" fill="#333" textLength="26.1" lengthAdjust="spacingAndGlyphs">localization component activit</text>
<rect x="344.2" y="301.03" width="26.80" height="2.2" fill="#fa0418"/>
<text x="342.3" y="302.92" font-size="2.2" text-anchor="end" fill="#333" textLength="19.8" lengthAdjust="spacingAndGlyphs">positive process divisi</text>
<rect x="344.2" y="303.36" width="27.80" height="2.2" fill="#f40a30"/>
<text x="342.3" y="305.25" font-size="2.2" text-anchor="end" fill="#333" textLength="28.4" lengthAdjust="spacingAndGlyphs">of chromosome localization negati</text>
<rect x="344.2" y="305.69" width="33.10" height="2.2" fill="#f0103e"/>
<text x="342.3" y="307.58" font-size="2.2" text-anchor="end" fill="#333" textLength="22.7" lengthAdjust="spacingAndGlyphs">regulation receptor metabo</text>
<rect x="344.2" y="308.03" width="22.90" height="2.2" fill="#e8185a"/>
<text x="342.3" y="309.92" font-size="2.2" text-anchor="end" fill="#333" textLength="16.7" lengthAdjust="spacingAndGlyphs">immune cell regulat</text>
<rect x="344.2" y="310.36" width="19.40" height="2.2" fill="#e01a78"/>
<text x="342.3" y="312.25" font-size="2.2" text-anchor="end" fill="#333" textLength="21.0" lengthAdjust="spacingAndGlyphs">organization development</text>
<rect x="344.2" y="312.69" width="18.80" height="2.2" fill="#d01c98"/>
<text x="342.3" y="314.58" font-size="2.2" text-anchor="end" fill="#333" textLength="29.3" lengthAdjust="spacingAndGlyphs">organization phase transport extra</text>
<rect x="344.2" y="315.02" width="13.40" height="2.2" fill="#b01ec0"/>
<text x="342.3" y="316.92" font-size="2.2" text-anchor="end" fill="#333" textLength="24.8" lengthAdjust="spacingAndGlyphs">chromosome organization nucle</text>
<rect x="344.2" y="317.36" width="29.50" height="2.2" fill="#9020d8"/>
<text x="342.3" y="319.25" font-size="2.2" text-anchor="end" fill="#333" textLength="29.0" lengthAdjust="spacingAndGlyphs">stimulus positive transport nuclea</text>
<rect x="344.2" y="319.69" width="10.40" height="2.2" fill="#6a18ee"/>
<text x="342.3" y="321.58" font-size="2.2" text-anchor="end" fill="#333" textLength="29.2" lengthAdjust="spacingAndGlyphs">metabolic matrix signaling immune</text>
<rect x="344.2" y="322.02" width="15.80" height="2.2" fill="#3a10fa"/>
<text x="342.3" y="323.92" font-size="2.2" text-anchor="end" fill="#333" textLength="17.9" lengthAdjust="spacingAndGlyphs">regulation immune adh</text>
<rect x="344.2" y="324.36" width="23.50" height="2.2" fill="#1a08ff"/>
<text x="342.3" y="326.25" font-size="2.2" text-anchor="end" fill="#333" textLength="26.7" lengthAdjust="spacingAndGlyphs">organization signaling metaboli</text>
<path d="M344.3 327.4v0.8" stroke="#555" stroke-width="0.3"/>
<text x="344.3" y="329.9" font-size="2.0" text-anchor="middle" font-weight="bold" fill="#444">0</text>
<path d="M357.2 327.4v0.8" stroke="#555" stroke-width="0.3"/>
<text x="357.2" y="329.9" font-size="2.0" text-anchor="middle" font-weight="bold" fill="#444">10</text>
<path d="M370.2 327.4v0.8" stroke="#555" stroke-width="0.3"/>
<text x="370.2" y="329.9" font-size="2.0" text-anchor="middle" font-weight="bold" fill="#444">20</text>
<path d="M383.2 327.4v0.8" stroke="#555" stroke-width="0.3"/>
<text x="383.2" y="329.9" font-size="2.0" text-anchor="middle" font-weight="bold" fill="#444">30</text>
<text x="392.0" y="285.4" font-size="2.0" text-anchor="start" font-weight="normal" fill="#333">p.adjust</text>
<rect x="392.2" y="286.6" width="2.8" height="13.1" fill="url(#padj)"/>
<text x="396.0" y="290.2" font-size="1.7" text-anchor="start" font-weight="normal" fill="#444">0.01</text>
<text x="396.0" y="294.0" font-size="1.7" text-anchor="start" font-weight="normal" fill="#444">0.02</text>
<text x="396.0" y="296.9" font-size="1.7" text-anchor="start" font-weight="normal" fill="#444">0.03</text>
</svg></body></html>
